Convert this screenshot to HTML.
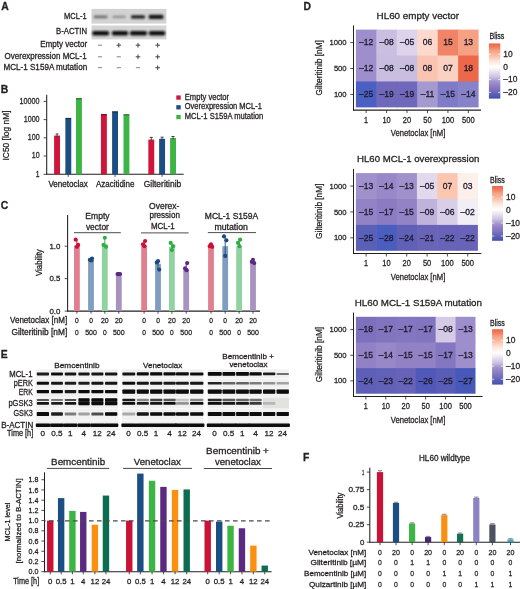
<!DOCTYPE html>
<html><head><meta charset="utf-8"><style>
html,body{margin:0;padding:0;background:#fff;}
svg{display:block;will-change:transform;}
text{font-family:"Liberation Sans", sans-serif;fill:#231f20;stroke:#231f20;stroke-width:0.28px;}
</style></head><body>
<svg width="520" height="589" viewBox="0 0 520 589">
<defs>
<filter id="bl" x="-20%" y="-50%" width="140%" height="200%"><feGaussianBlur stdDeviation="0.6"/></filter>
<filter id="bl3" x="-20%" y="-50%" width="140%" height="200%"><feGaussianBlur stdDeviation="0.75"/></filter>
<filter id="bl2" x="-20%" y="-50%" width="140%" height="200%"><feGaussianBlur stdDeviation="0.9"/></filter>
</defs>
<text x="1.30" y="9.60" font-size="10.4" font-weight="bold" fill="#000">A</text>
<text x="0.80" y="93.30" font-size="10.4" font-weight="bold" fill="#000">B</text>
<text x="0.80" y="208.60" font-size="10.4" font-weight="bold" fill="#000">C</text>
<text x="303.60" y="10.10" font-size="10.4" font-weight="bold" fill="#000">D</text>
<text x="0.80" y="358.10" font-size="10.4" font-weight="bold" fill="#000">E</text>
<text x="302.90" y="460.70" font-size="10.4" font-weight="bold" fill="#000">F</text>
<rect x="91.50" y="8.90" width="74.90" height="14.70" fill="#d2d2d2"/>
<rect x="91.50" y="25.50" width="74.90" height="13.90" fill="#d4d4d4"/>
<g filter="url(#bl2)">
<rect x="93.60" y="15.50" width="14.00" height="2.80" fill="#6e6e6e" rx="1.5"/>
<rect x="112.40" y="15.70" width="13.40" height="2.40" fill="#8c8c8c" rx="1.5"/>
<rect x="130.90" y="15.20" width="14.20" height="3.40" fill="#1c1c1c" rx="1.5"/>
<rect x="148.70" y="14.80" width="14.70" height="4.20" fill="#121212" rx="1.5"/>
<rect x="92.20" y="30.90" width="17.00" height="4.60" fill="#0e0e0e" rx="2"/>
<rect x="111.80" y="30.90" width="16.40" height="4.60" fill="#0e0e0e" rx="2"/>
<rect x="129.90" y="30.90" width="17.20" height="4.60" fill="#0e0e0e" rx="2"/>
<rect x="148.80" y="30.90" width="16.50" height="4.60" fill="#0e0e0e" rx="2"/>
</g>
<text x="86.60" y="19.40" font-size="8.21" text-anchor="end" textLength="22.50" lengthAdjust="spacingAndGlyphs">MCL-1</text>
<text x="87.10" y="34.40" font-size="8.21" text-anchor="end" textLength="31.00" lengthAdjust="spacingAndGlyphs">B-ACTIN</text>
<text x="87.20" y="47.20" font-size="8.21" text-anchor="end" textLength="47.00" lengthAdjust="spacingAndGlyphs">Empty vector</text>
<text x="86.60" y="58.50" font-size="8.21" text-anchor="end" textLength="82.00" lengthAdjust="spacingAndGlyphs">Overexpression MCL-1</text>
<text x="87.20" y="69.50" font-size="8.21" text-anchor="end" textLength="83.80" lengthAdjust="spacingAndGlyphs">MCL-1 S159A mutation</text>
<line x1="97.90" y1="45.20" x2="102.10" y2="45.20" stroke="#666" stroke-width="0.8"/>
<line x1="116.50" y1="45.20" x2="121.10" y2="45.20" stroke="#333" stroke-width="0.9"/>
<line x1="118.80" y1="42.90" x2="118.80" y2="47.50" stroke="#333" stroke-width="0.9"/>
<line x1="135.70" y1="45.20" x2="140.30" y2="45.20" stroke="#333" stroke-width="0.9"/>
<line x1="138.00" y1="42.90" x2="138.00" y2="47.50" stroke="#333" stroke-width="0.9"/>
<line x1="155.40" y1="45.20" x2="160.00" y2="45.20" stroke="#333" stroke-width="0.9"/>
<line x1="157.70" y1="42.90" x2="157.70" y2="47.50" stroke="#333" stroke-width="0.9"/>
<line x1="97.90" y1="56.80" x2="102.10" y2="56.80" stroke="#666" stroke-width="0.8"/>
<line x1="116.70" y1="56.80" x2="120.90" y2="56.80" stroke="#666" stroke-width="0.8"/>
<line x1="135.70" y1="56.80" x2="140.30" y2="56.80" stroke="#333" stroke-width="0.9"/>
<line x1="138.00" y1="54.50" x2="138.00" y2="59.10" stroke="#333" stroke-width="0.9"/>
<line x1="155.40" y1="56.80" x2="160.00" y2="56.80" stroke="#333" stroke-width="0.9"/>
<line x1="157.70" y1="54.50" x2="157.70" y2="59.10" stroke="#333" stroke-width="0.9"/>
<line x1="97.90" y1="67.70" x2="102.10" y2="67.70" stroke="#666" stroke-width="0.8"/>
<line x1="116.70" y1="67.70" x2="120.90" y2="67.70" stroke="#666" stroke-width="0.8"/>
<line x1="135.90" y1="67.70" x2="140.10" y2="67.70" stroke="#666" stroke-width="0.8"/>
<line x1="155.40" y1="67.70" x2="160.00" y2="67.70" stroke="#333" stroke-width="0.9"/>
<line x1="157.70" y1="65.40" x2="157.70" y2="70.00" stroke="#333" stroke-width="0.9"/>
<line x1="46.70" y1="94.70" x2="46.70" y2="174.75" stroke="#231f20" stroke-width="1.05"/>
<line x1="46.25" y1="174.30" x2="183.70" y2="174.30" stroke="#231f20" stroke-width="1.05"/>
<line x1="43.60" y1="101.40" x2="46.70" y2="101.40" stroke="#231f20" stroke-width="0.8"/>
<text x="39.60" y="103.80" font-size="8.42" text-anchor="end" textLength="20.00" lengthAdjust="spacingAndGlyphs">10000</text>
<line x1="43.60" y1="119.60" x2="46.70" y2="119.60" stroke="#231f20" stroke-width="0.8"/>
<text x="39.60" y="122.00" font-size="8.42" text-anchor="end" textLength="15.94" lengthAdjust="spacingAndGlyphs">1000</text>
<line x1="43.60" y1="137.80" x2="46.70" y2="137.80" stroke="#231f20" stroke-width="0.8"/>
<text x="39.60" y="140.20" font-size="8.42" text-anchor="end" textLength="11.88" lengthAdjust="spacingAndGlyphs">100</text>
<line x1="43.60" y1="156.00" x2="46.70" y2="156.00" stroke="#231f20" stroke-width="0.8"/>
<text x="39.60" y="158.40" font-size="8.42" text-anchor="end" textLength="7.82" lengthAdjust="spacingAndGlyphs">10</text>
<line x1="43.60" y1="174.30" x2="46.70" y2="174.30" stroke="#231f20" stroke-width="0.8"/>
<text x="39.60" y="176.70" font-size="8.42" text-anchor="end" textLength="3.76" lengthAdjust="spacingAndGlyphs">1</text>
<line x1="68.20" y1="174.30" x2="68.20" y2="176.80" stroke="#231f20" stroke-width="0.8"/>
<line x1="115.05" y1="174.30" x2="115.05" y2="176.80" stroke="#231f20" stroke-width="0.8"/>
<line x1="162.10" y1="174.30" x2="162.10" y2="176.80" stroke="#231f20" stroke-width="0.8"/>
<text x="68.10" y="186.60" font-size="8.42" text-anchor="middle" textLength="39.40" lengthAdjust="spacingAndGlyphs">Venetoclax</text>
<text x="115.20" y="186.60" font-size="8.42" text-anchor="middle" textLength="38.60" lengthAdjust="spacingAndGlyphs">Azacitidine</text>
<text x="162.50" y="186.60" font-size="8.42" text-anchor="middle" textLength="37.60" lengthAdjust="spacingAndGlyphs">Gilteritinib</text>
<text x="8.60" y="135.50" font-size="8.42" text-anchor="middle" transform="translate(8.60 135.50) rotate(-90) scale(0.9985 1) translate(-8.60 -135.50)">IC50 [log nM]</text>
<rect x="54.10" y="135.60" width="5.90" height="38.70" fill="#d0153a"/>
<rect x="65.35" y="117.90" width="5.90" height="56.40" fill="#1a4e85"/>
<rect x="76.00" y="98.10" width="5.90" height="76.20" fill="#3cb544"/>
<rect x="100.95" y="114.00" width="5.90" height="60.30" fill="#d0153a"/>
<rect x="112.10" y="111.30" width="5.90" height="63.00" fill="#1a4e85"/>
<rect x="123.50" y="114.20" width="5.90" height="60.10" fill="#3cb544"/>
<rect x="148.35" y="139.60" width="5.90" height="34.70" fill="#d0153a"/>
<rect x="159.15" y="138.80" width="5.90" height="35.50" fill="#1a4e85"/>
<rect x="170.10" y="138.00" width="5.90" height="36.30" fill="#3cb544"/>
<line x1="57.05" y1="134.00" x2="57.05" y2="137.00" stroke="#2a2a2a" stroke-width="0.8"/>
<line x1="55.55" y1="134.00" x2="58.55" y2="134.00" stroke="#2a2a2a" stroke-width="0.9"/>
<line x1="151.30" y1="137.40" x2="151.30" y2="140.50" stroke="#2a2a2a" stroke-width="0.8"/>
<line x1="149.80" y1="137.40" x2="152.80" y2="137.40" stroke="#2a2a2a" stroke-width="0.9"/>
<line x1="162.10" y1="137.20" x2="162.10" y2="140.00" stroke="#2a2a2a" stroke-width="0.8"/>
<line x1="160.60" y1="137.20" x2="163.60" y2="137.20" stroke="#2a2a2a" stroke-width="0.9"/>
<line x1="173.05" y1="136.50" x2="173.05" y2="139.50" stroke="#2a2a2a" stroke-width="0.8"/>
<line x1="171.55" y1="136.50" x2="174.55" y2="136.50" stroke="#2a2a2a" stroke-width="0.9"/>
<rect x="65.35" y="117.90" width="5.90" height="1.30" fill="#000" opacity="0.35"/>
<rect x="76.00" y="98.10" width="5.90" height="1.30" fill="#000" opacity="0.35"/>
<rect x="100.95" y="114.00" width="5.90" height="1.30" fill="#000" opacity="0.35"/>
<rect x="112.10" y="111.30" width="5.90" height="1.30" fill="#000" opacity="0.35"/>
<rect x="123.50" y="114.20" width="5.90" height="1.30" fill="#000" opacity="0.35"/>
<rect x="176.30" y="95.40" width="4.40" height="4.30" fill="#d0153a"/>
<text x="184.80" y="99.70" font-size="8.21" textLength="44.30" lengthAdjust="spacingAndGlyphs">Empty vector</text>
<rect x="176.30" y="105.15" width="4.40" height="4.30" fill="#1a4e85"/>
<text x="184.80" y="109.45" font-size="8.21" textLength="77.00" lengthAdjust="spacingAndGlyphs">Overexpression MCL-1</text>
<rect x="176.30" y="114.90" width="4.40" height="4.30" fill="#3cb544"/>
<text x="184.80" y="119.20" font-size="8.21" textLength="78.50" lengthAdjust="spacingAndGlyphs">MCL-1 S159A mutation</text>
<line x1="67.60" y1="215.00" x2="67.60" y2="311.55" stroke="#231f20" stroke-width="1.05"/>
<line x1="67.15" y1="311.10" x2="260.00" y2="311.10" stroke="#231f20" stroke-width="1.05"/>
<line x1="64.70" y1="246.20" x2="67.60" y2="246.20" stroke="#231f20" stroke-width="0.8"/>
<text x="60.40" y="248.70" font-size="7.99" text-anchor="end" textLength="11.00" lengthAdjust="spacingAndGlyphs">1.0</text>
<line x1="64.70" y1="278.65" x2="67.60" y2="278.65" stroke="#231f20" stroke-width="0.8"/>
<text x="60.40" y="281.15" font-size="7.99" text-anchor="end" textLength="11.00" lengthAdjust="spacingAndGlyphs">0.5</text>
<line x1="64.70" y1="311.10" x2="67.60" y2="311.10" stroke="#231f20" stroke-width="0.8"/>
<text x="60.40" y="313.60" font-size="7.99" text-anchor="end" textLength="11.00" lengthAdjust="spacingAndGlyphs">0.0</text>
<text x="41.80" y="262.60" font-size="8.86" text-anchor="middle" transform="translate(41.80 262.60) rotate(-90) scale(0.8824 1) translate(-41.80 -262.60)">Viability</text>
<rect x="74.00" y="245.55" width="5.80" height="65.55" fill="#e17f90"/>
<line x1="76.90" y1="239.71" x2="76.90" y2="246.85" stroke="#cc1038" stroke-width="0.9"/>
<circle cx="75.70" cy="239.71" r="2.10" fill="#cc1038"/>
<circle cx="78.10" cy="244.90" r="2.10" fill="#cc1038"/>
<circle cx="76.90" cy="246.85" r="2.10" fill="#cc1038"/>
<line x1="76.90" y1="311.10" x2="76.90" y2="313.70" stroke="#231f20" stroke-width="0.8"/>
<rect x="88.10" y="259.83" width="5.80" height="51.27" fill="#7f9dc0"/>
<line x1="91.00" y1="258.53" x2="91.00" y2="260.48" stroke="#1b4a80" stroke-width="0.9"/>
<circle cx="92.00" cy="258.53" r="2.10" fill="#1b4a80"/>
<circle cx="89.90" cy="259.83" r="2.10" fill="#1b4a80"/>
<circle cx="91.30" cy="260.48" r="2.10" fill="#1b4a80"/>
<line x1="91.00" y1="311.10" x2="91.00" y2="313.70" stroke="#231f20" stroke-width="0.8"/>
<rect x="101.90" y="244.25" width="5.80" height="66.85" fill="#90d3a0"/>
<line x1="104.80" y1="237.76" x2="104.80" y2="246.85" stroke="#30ad46" stroke-width="0.9"/>
<circle cx="104.80" cy="237.76" r="2.10" fill="#30ad46"/>
<circle cx="103.60" cy="244.90" r="2.10" fill="#30ad46"/>
<circle cx="106.00" cy="246.85" r="2.10" fill="#30ad46"/>
<line x1="104.80" y1="311.10" x2="104.80" y2="313.70" stroke="#231f20" stroke-width="0.8"/>
<rect x="115.90" y="274.11" width="5.80" height="36.99" fill="#a892bf"/>
<line x1="118.80" y1="274.11" x2="118.80" y2="274.11" stroke="#5a2a82" stroke-width="0.9"/>
<circle cx="117.60" cy="274.11" r="2.10" fill="#5a2a82"/>
<circle cx="120.00" cy="274.11" r="2.10" fill="#5a2a82"/>
<circle cx="118.80" cy="274.11" r="2.10" fill="#5a2a82"/>
<line x1="118.80" y1="311.10" x2="118.80" y2="313.70" stroke="#231f20" stroke-width="0.8"/>
<rect x="141.20" y="245.55" width="5.80" height="65.55" fill="#e17f90"/>
<line x1="144.10" y1="241.01" x2="144.10" y2="246.20" stroke="#cc1038" stroke-width="0.9"/>
<circle cx="145.10" cy="241.01" r="2.10" fill="#cc1038"/>
<circle cx="143.00" cy="244.25" r="2.10" fill="#cc1038"/>
<circle cx="144.40" cy="246.20" r="2.10" fill="#cc1038"/>
<line x1="144.10" y1="311.10" x2="144.10" y2="313.70" stroke="#231f20" stroke-width="0.8"/>
<rect x="155.10" y="263.72" width="5.80" height="47.38" fill="#7f9dc0"/>
<line x1="158.00" y1="261.13" x2="158.00" y2="269.56" stroke="#1b4a80" stroke-width="0.9"/>
<circle cx="158.00" cy="261.13" r="2.10" fill="#1b4a80"/>
<circle cx="156.80" cy="262.43" r="2.10" fill="#1b4a80"/>
<circle cx="159.20" cy="269.56" r="2.10" fill="#1b4a80"/>
<line x1="158.00" y1="311.10" x2="158.00" y2="313.70" stroke="#231f20" stroke-width="0.8"/>
<rect x="169.00" y="246.85" width="5.80" height="64.25" fill="#90d3a0"/>
<line x1="171.90" y1="242.96" x2="171.90" y2="250.09" stroke="#30ad46" stroke-width="0.9"/>
<circle cx="170.70" cy="242.96" r="2.10" fill="#30ad46"/>
<circle cx="173.10" cy="246.20" r="2.10" fill="#30ad46"/>
<circle cx="171.90" cy="250.09" r="2.10" fill="#30ad46"/>
<line x1="171.90" y1="311.10" x2="171.90" y2="313.70" stroke="#231f20" stroke-width="0.8"/>
<rect x="183.30" y="268.92" width="5.80" height="42.19" fill="#a892bf"/>
<line x1="186.20" y1="263.07" x2="186.20" y2="270.21" stroke="#5a2a82" stroke-width="0.9"/>
<circle cx="187.20" cy="263.07" r="2.10" fill="#5a2a82"/>
<circle cx="185.10" cy="268.27" r="2.10" fill="#5a2a82"/>
<circle cx="186.50" cy="270.21" r="2.10" fill="#5a2a82"/>
<line x1="186.20" y1="311.10" x2="186.20" y2="313.70" stroke="#231f20" stroke-width="0.8"/>
<rect x="208.10" y="246.20" width="5.80" height="64.90" fill="#e17f90"/>
<line x1="211.00" y1="244.25" x2="211.00" y2="246.85" stroke="#cc1038" stroke-width="0.9"/>
<circle cx="211.00" cy="244.25" r="2.10" fill="#cc1038"/>
<circle cx="209.80" cy="246.20" r="2.10" fill="#cc1038"/>
<circle cx="212.20" cy="246.85" r="2.10" fill="#cc1038"/>
<line x1="211.00" y1="311.10" x2="211.00" y2="313.70" stroke="#231f20" stroke-width="0.8"/>
<rect x="222.30" y="246.20" width="5.80" height="64.90" fill="#7f9dc0"/>
<line x1="225.20" y1="236.47" x2="225.20" y2="255.94" stroke="#1b4a80" stroke-width="0.9"/>
<circle cx="224.00" cy="236.47" r="2.10" fill="#1b4a80"/>
<circle cx="226.40" cy="240.36" r="2.10" fill="#1b4a80"/>
<circle cx="225.20" cy="255.94" r="2.10" fill="#1b4a80"/>
<line x1="225.20" y1="311.10" x2="225.20" y2="313.70" stroke="#231f20" stroke-width="0.8"/>
<rect x="236.20" y="246.20" width="5.80" height="64.90" fill="#90d3a0"/>
<line x1="239.10" y1="239.71" x2="239.10" y2="246.20" stroke="#30ad46" stroke-width="0.9"/>
<circle cx="240.10" cy="239.71" r="2.10" fill="#30ad46"/>
<circle cx="238.00" cy="242.96" r="2.10" fill="#30ad46"/>
<circle cx="239.40" cy="246.20" r="2.10" fill="#30ad46"/>
<line x1="239.10" y1="311.10" x2="239.10" y2="313.70" stroke="#231f20" stroke-width="0.8"/>
<rect x="250.10" y="262.43" width="5.80" height="48.68" fill="#a892bf"/>
<line x1="253.00" y1="259.83" x2="253.00" y2="263.07" stroke="#5a2a82" stroke-width="0.9"/>
<circle cx="253.00" cy="259.83" r="2.10" fill="#5a2a82"/>
<circle cx="251.80" cy="261.78" r="2.10" fill="#5a2a82"/>
<circle cx="254.20" cy="263.07" r="2.10" fill="#5a2a82"/>
<line x1="253.00" y1="311.10" x2="253.00" y2="313.70" stroke="#231f20" stroke-width="0.8"/>
<line x1="74.00" y1="232.70" x2="120.80" y2="232.70" stroke="#3a3a3a" stroke-width="0.9"/>
<line x1="141.00" y1="232.90" x2="188.60" y2="232.90" stroke="#3a3a3a" stroke-width="0.9"/>
<line x1="207.80" y1="232.60" x2="256.00" y2="232.60" stroke="#3a3a3a" stroke-width="0.9"/>
<text x="85.30" y="219.10" font-size="8.21" textLength="24.30" lengthAdjust="spacingAndGlyphs">Empty</text>
<text x="85.90" y="229.60" font-size="8.21" textLength="23.00" lengthAdjust="spacingAndGlyphs">vector</text>
<text x="149.10" y="208.70" font-size="8.21" textLength="30.20" lengthAdjust="spacingAndGlyphs">Overex-</text>
<text x="149.40" y="218.30" font-size="8.21" textLength="30.50" lengthAdjust="spacingAndGlyphs">pression</text>
<text x="150.90" y="228.70" font-size="8.21" textLength="23.90" lengthAdjust="spacingAndGlyphs">MCL-1</text>
<text x="204.80" y="219.20" font-size="8.21" textLength="53.40" lengthAdjust="spacingAndGlyphs">MCL-1 S159A</text>
<text x="214.40" y="229.60" font-size="8.21" textLength="33.50" lengthAdjust="spacingAndGlyphs">mutation</text>
<text x="67.20" y="322.60" font-size="8.21" text-anchor="end" textLength="57.20" lengthAdjust="spacingAndGlyphs">Venetoclax [nM]</text>
<text x="67.20" y="335.00" font-size="8.21" text-anchor="end" textLength="55.70" lengthAdjust="spacingAndGlyphs">Gilteritinib [nM]</text>
<text x="76.90" y="322.70" font-size="7.78" text-anchor="middle" textLength="3.70" lengthAdjust="spacingAndGlyphs">0</text>
<text x="76.90" y="335.30" font-size="7.78" text-anchor="middle" textLength="3.70" lengthAdjust="spacingAndGlyphs">0</text>
<text x="91.00" y="322.70" font-size="7.78" text-anchor="middle" textLength="3.70" lengthAdjust="spacingAndGlyphs">0</text>
<text x="91.00" y="335.30" font-size="7.78" text-anchor="middle" textLength="11.70" lengthAdjust="spacingAndGlyphs">500</text>
<text x="104.80" y="322.70" font-size="7.78" text-anchor="middle" textLength="7.70" lengthAdjust="spacingAndGlyphs">20</text>
<text x="104.80" y="335.30" font-size="7.78" text-anchor="middle" textLength="3.70" lengthAdjust="spacingAndGlyphs">0</text>
<text x="118.80" y="322.70" font-size="7.78" text-anchor="middle" textLength="7.70" lengthAdjust="spacingAndGlyphs">20</text>
<text x="118.80" y="335.30" font-size="7.78" text-anchor="middle" textLength="11.70" lengthAdjust="spacingAndGlyphs">500</text>
<text x="144.10" y="322.70" font-size="7.78" text-anchor="middle" textLength="3.70" lengthAdjust="spacingAndGlyphs">0</text>
<text x="144.10" y="335.30" font-size="7.78" text-anchor="middle" textLength="3.70" lengthAdjust="spacingAndGlyphs">0</text>
<text x="158.00" y="322.70" font-size="7.78" text-anchor="middle" textLength="3.70" lengthAdjust="spacingAndGlyphs">0</text>
<text x="158.00" y="335.30" font-size="7.78" text-anchor="middle" textLength="11.70" lengthAdjust="spacingAndGlyphs">500</text>
<text x="171.90" y="322.70" font-size="7.78" text-anchor="middle" textLength="7.70" lengthAdjust="spacingAndGlyphs">20</text>
<text x="171.90" y="335.30" font-size="7.78" text-anchor="middle" textLength="3.70" lengthAdjust="spacingAndGlyphs">0</text>
<text x="186.20" y="322.70" font-size="7.78" text-anchor="middle" textLength="7.70" lengthAdjust="spacingAndGlyphs">20</text>
<text x="186.20" y="335.30" font-size="7.78" text-anchor="middle" textLength="11.70" lengthAdjust="spacingAndGlyphs">500</text>
<text x="211.00" y="322.70" font-size="7.78" text-anchor="middle" textLength="3.70" lengthAdjust="spacingAndGlyphs">0</text>
<text x="211.00" y="335.30" font-size="7.78" text-anchor="middle" textLength="3.70" lengthAdjust="spacingAndGlyphs">0</text>
<text x="225.20" y="322.70" font-size="7.78" text-anchor="middle" textLength="3.70" lengthAdjust="spacingAndGlyphs">0</text>
<text x="225.20" y="335.30" font-size="7.78" text-anchor="middle" textLength="11.70" lengthAdjust="spacingAndGlyphs">500</text>
<text x="239.10" y="322.70" font-size="7.78" text-anchor="middle" textLength="7.70" lengthAdjust="spacingAndGlyphs">20</text>
<text x="239.10" y="335.30" font-size="7.78" text-anchor="middle" textLength="3.70" lengthAdjust="spacingAndGlyphs">0</text>
<text x="253.00" y="322.70" font-size="7.78" text-anchor="middle" textLength="7.70" lengthAdjust="spacingAndGlyphs">20</text>
<text x="253.00" y="335.30" font-size="7.78" text-anchor="middle" textLength="11.70" lengthAdjust="spacingAndGlyphs">500</text>
<rect x="355.90" y="29.60" width="21.05" height="26.53" fill="#9f8ecc"/>
<text x="366.12" y="45.27" font-size="8.53" text-anchor="middle" style="stroke-width:0.3px;fill:#1c1a2c;stroke:#1c1a2c">–12</text>
<rect x="376.35" y="29.60" width="21.05" height="26.53" fill="#cbbfe1"/>
<text x="386.57" y="45.27" font-size="8.53" text-anchor="middle" style="stroke-width:0.3px;fill:#1c1a2c;stroke:#1c1a2c">–08</text>
<rect x="396.80" y="29.60" width="21.05" height="26.53" fill="#ddd3ea"/>
<text x="407.02" y="45.27" font-size="8.53" text-anchor="middle" style="stroke-width:0.3px;fill:#1c1a2c;stroke:#1c1a2c">–05</text>
<rect x="417.25" y="29.60" width="21.05" height="26.53" fill="#fcd9cc"/>
<text x="427.48" y="45.27" font-size="8.53" text-anchor="middle" style="stroke-width:0.3px;fill:#1c1a2c;stroke:#1c1a2c">06</text>
<rect x="437.70" y="29.60" width="21.05" height="26.53" fill="#f08466"/>
<text x="447.93" y="45.27" font-size="8.53" text-anchor="middle" style="stroke-width:0.3px;fill:#1c1a2c;stroke:#1c1a2c">15</text>
<rect x="458.15" y="29.60" width="20.45" height="26.53" fill="#f6a183"/>
<text x="468.38" y="45.27" font-size="8.53" text-anchor="middle" style="stroke-width:0.3px;fill:#1c1a2c;stroke:#1c1a2c">13</text>
<rect x="355.90" y="55.53" width="21.05" height="26.53" fill="#9f8ecc"/>
<text x="366.12" y="71.20" font-size="8.53" text-anchor="middle" style="stroke-width:0.3px;fill:#1c1a2c;stroke:#1c1a2c">–12</text>
<rect x="376.35" y="55.53" width="21.05" height="26.53" fill="#c9bde0"/>
<text x="386.57" y="71.20" font-size="8.53" text-anchor="middle" style="stroke-width:0.3px;fill:#1c1a2c;stroke:#1c1a2c">–08</text>
<rect x="396.80" y="55.53" width="21.05" height="26.53" fill="#c9bde0"/>
<text x="407.02" y="71.20" font-size="8.53" text-anchor="middle" style="stroke-width:0.3px;fill:#1c1a2c;stroke:#1c1a2c">–08</text>
<rect x="417.25" y="55.53" width="21.05" height="26.53" fill="#f9c5b2"/>
<text x="427.48" y="71.20" font-size="8.53" text-anchor="middle" style="stroke-width:0.3px;fill:#1c1a2c;stroke:#1c1a2c">08</text>
<rect x="437.70" y="55.53" width="21.05" height="26.53" fill="#fbd2c2"/>
<text x="447.93" y="71.20" font-size="8.53" text-anchor="middle" style="stroke-width:0.3px;fill:#1c1a2c;stroke:#1c1a2c">07</text>
<rect x="458.15" y="55.53" width="20.45" height="26.53" fill="#ee6748"/>
<text x="468.38" y="71.20" font-size="8.53" text-anchor="middle" style="stroke-width:0.3px;fill:#1c1a2c;stroke:#1c1a2c">18</text>
<rect x="355.90" y="81.47" width="21.05" height="25.93" fill="#4a60c2"/>
<text x="366.12" y="97.13" font-size="8.53" text-anchor="middle" style="stroke-width:0.3px;fill:#1c1a2c;stroke:#1c1a2c">–25</text>
<rect x="376.35" y="81.47" width="21.05" height="25.93" fill="#7069bb"/>
<text x="386.57" y="97.13" font-size="8.53" text-anchor="middle" style="stroke-width:0.3px;fill:#1c1a2c;stroke:#1c1a2c">–19</text>
<rect x="396.80" y="81.47" width="21.05" height="25.93" fill="#7069bb"/>
<text x="407.02" y="97.13" font-size="8.53" text-anchor="middle" style="stroke-width:0.3px;fill:#1c1a2c;stroke:#1c1a2c">–19</text>
<rect x="417.25" y="81.47" width="21.05" height="25.93" fill="#a49ad0"/>
<text x="427.48" y="97.13" font-size="8.53" text-anchor="middle" style="stroke-width:0.3px;fill:#1c1a2c;stroke:#1c1a2c">–11</text>
<rect x="437.70" y="81.47" width="21.05" height="25.93" fill="#807bc6"/>
<text x="447.93" y="97.13" font-size="8.53" text-anchor="middle" style="stroke-width:0.3px;fill:#1c1a2c;stroke:#1c1a2c">–15</text>
<rect x="458.15" y="81.47" width="20.45" height="25.93" fill="#8882c8"/>
<text x="468.38" y="97.13" font-size="8.53" text-anchor="middle" style="stroke-width:0.3px;fill:#1c1a2c;stroke:#1c1a2c">–14</text>
<line x1="353.50" y1="25.40" x2="353.50" y2="110.55" stroke="#231f20" stroke-width="1.05"/>
<line x1="353.05" y1="110.10" x2="481.00" y2="110.10" stroke="#231f20" stroke-width="1.05"/>
<line x1="350.30" y1="42.57" x2="353.50" y2="42.57" stroke="#231f20" stroke-width="0.8"/>
<text x="346.60" y="45.17" font-size="8.1" text-anchor="end" textLength="17.00" lengthAdjust="spacingAndGlyphs">1000</text>
<line x1="350.30" y1="68.50" x2="353.50" y2="68.50" stroke="#231f20" stroke-width="0.8"/>
<text x="346.60" y="71.10" font-size="8.1" text-anchor="end" textLength="12.70" lengthAdjust="spacingAndGlyphs">500</text>
<line x1="350.30" y1="94.43" x2="353.50" y2="94.43" stroke="#231f20" stroke-width="0.8"/>
<text x="346.60" y="97.03" font-size="8.1" text-anchor="end" textLength="12.70" lengthAdjust="spacingAndGlyphs">100</text>
<line x1="366.12" y1="110.10" x2="366.12" y2="113.10" stroke="#231f20" stroke-width="0.8"/>
<text x="366.12" y="122.90" font-size="8.21" text-anchor="middle" textLength="4.00" lengthAdjust="spacingAndGlyphs">1</text>
<line x1="386.57" y1="110.10" x2="386.57" y2="113.10" stroke="#231f20" stroke-width="0.8"/>
<text x="386.57" y="122.90" font-size="8.21" text-anchor="middle" textLength="8.30" lengthAdjust="spacingAndGlyphs">10</text>
<line x1="407.02" y1="110.10" x2="407.02" y2="113.10" stroke="#231f20" stroke-width="0.8"/>
<text x="407.02" y="122.90" font-size="8.21" text-anchor="middle" textLength="8.30" lengthAdjust="spacingAndGlyphs">20</text>
<line x1="427.48" y1="110.10" x2="427.48" y2="113.10" stroke="#231f20" stroke-width="0.8"/>
<text x="427.48" y="122.90" font-size="8.21" text-anchor="middle" textLength="8.30" lengthAdjust="spacingAndGlyphs">50</text>
<line x1="447.93" y1="110.10" x2="447.93" y2="113.10" stroke="#231f20" stroke-width="0.8"/>
<text x="447.93" y="122.90" font-size="8.21" text-anchor="middle" textLength="12.60" lengthAdjust="spacingAndGlyphs">100</text>
<line x1="468.38" y1="110.10" x2="468.38" y2="113.10" stroke="#231f20" stroke-width="0.8"/>
<text x="468.38" y="122.90" font-size="8.21" text-anchor="middle" textLength="12.60" lengthAdjust="spacingAndGlyphs">500</text>
<text x="418.00" y="136.10" font-size="9.07" text-anchor="middle" textLength="54.60" lengthAdjust="spacingAndGlyphs">Venetoclax [nM]</text>
<text x="322.40" y="67.75" font-size="9.07" text-anchor="middle" transform="translate(322.40 67.75) rotate(-90) scale(0.9160 1) translate(-322.40 -67.75)">Gilteritinib [nM]</text>
<text x="417.80" y="19.00" font-size="9.29" text-anchor="middle" textLength="82.40" lengthAdjust="spacingAndGlyphs">HL60 empty vector</text>
<linearGradient id="cg1" x1="0" y1="0" x2="0" y2="1"><stop offset="0.000" stop-color="#ee6748"/><stop offset="0.025" stop-color="#ee6d4e"/><stop offset="0.050" stop-color="#ef7859"/><stop offset="0.075" stop-color="#f08263"/><stop offset="0.100" stop-color="#f29072"/><stop offset="0.125" stop-color="#f59f82"/><stop offset="0.150" stop-color="#f6a78b"/><stop offset="0.175" stop-color="#f7ae93"/><stop offset="0.200" stop-color="#f8b69d"/><stop offset="0.225" stop-color="#f9bfa9"/><stop offset="0.250" stop-color="#fac8b6"/><stop offset="0.275" stop-color="#fbd3c4"/><stop offset="0.300" stop-color="#fcdcd0"/><stop offset="0.325" stop-color="#fde4da"/><stop offset="0.350" stop-color="#fdebe4"/><stop offset="0.375" stop-color="#fdf2ed"/><stop offset="0.400" stop-color="#fef8f6"/><stop offset="0.425" stop-color="#fffefe"/><stop offset="0.450" stop-color="#f9f7fb"/><stop offset="0.475" stop-color="#f3eff6"/><stop offset="0.500" stop-color="#ece6f2"/><stop offset="0.525" stop-color="#e5deee"/><stop offset="0.550" stop-color="#ded5ea"/><stop offset="0.575" stop-color="#d6cce6"/><stop offset="0.600" stop-color="#cfc4e3"/><stop offset="0.625" stop-color="#c4b8de"/><stop offset="0.650" stop-color="#b6a9d6"/><stop offset="0.675" stop-color="#a99bd0"/><stop offset="0.700" stop-color="#a190cd"/><stop offset="0.725" stop-color="#9b8aca"/><stop offset="0.750" stop-color="#9484c6"/><stop offset="0.775" stop-color="#8d7ec3"/><stop offset="0.800" stop-color="#8779c1"/><stop offset="0.825" stop-color="#8174bf"/><stop offset="0.850" stop-color="#786ebd"/><stop offset="0.875" stop-color="#6f69bb"/><stop offset="0.900" stop-color="#6364b5"/><stop offset="0.925" stop-color="#5a5fb4"/><stop offset="0.950" stop-color="#525ab2"/><stop offset="0.975" stop-color="#4955b0"/><stop offset="1.000" stop-color="#4050ae"/></linearGradient>
<rect x="488.90" y="43.40" width="11.40" height="55.20" fill="url(#cg1)"/>
<line x1="488.90" y1="54.10" x2="491.10" y2="54.10" stroke="#fff" stroke-width="0.7"/>
<line x1="498.10" y1="54.10" x2="500.30" y2="54.10" stroke="#fff" stroke-width="0.7"/>
<text x="503.30" y="56.70" font-size="8.42">10</text>
<line x1="488.90" y1="67.00" x2="491.10" y2="67.00" stroke="#fff" stroke-width="0.7"/>
<line x1="498.10" y1="67.00" x2="500.30" y2="67.00" stroke="#fff" stroke-width="0.7"/>
<text x="503.30" y="69.60" font-size="8.42">0</text>
<line x1="488.90" y1="79.60" x2="491.10" y2="79.60" stroke="#fff" stroke-width="0.7"/>
<line x1="498.10" y1="79.60" x2="500.30" y2="79.60" stroke="#fff" stroke-width="0.7"/>
<text x="503.30" y="82.20" font-size="8.42">–10</text>
<line x1="488.90" y1="92.40" x2="491.10" y2="92.40" stroke="#fff" stroke-width="0.7"/>
<line x1="498.10" y1="92.40" x2="500.30" y2="92.40" stroke="#fff" stroke-width="0.7"/>
<text x="503.30" y="95.00" font-size="8.42">–20</text>
<text x="489.40" y="39.10" font-size="8.42" textLength="15.00" lengthAdjust="spacingAndGlyphs">Bliss</text>
<rect x="355.90" y="173.10" width="20.93" height="26.50" fill="#a090cc"/>
<text x="366.07" y="188.75" font-size="8.53" text-anchor="middle" style="stroke-width:0.3px;fill:#1c1a2c;stroke:#1c1a2c">–13</text>
<rect x="376.23" y="173.10" width="20.93" height="26.50" fill="#9888c8"/>
<text x="386.40" y="188.75" font-size="8.53" text-anchor="middle" style="stroke-width:0.3px;fill:#1c1a2c;stroke:#1c1a2c">–14</text>
<rect x="396.57" y="173.10" width="20.93" height="26.50" fill="#a090cc"/>
<text x="406.73" y="188.75" font-size="8.53" text-anchor="middle" style="stroke-width:0.3px;fill:#1c1a2c;stroke:#1c1a2c">–13</text>
<rect x="416.90" y="173.10" width="20.93" height="26.50" fill="#e2d9ed"/>
<text x="427.07" y="188.75" font-size="8.53" text-anchor="middle" style="stroke-width:0.3px;fill:#1c1a2c;stroke:#1c1a2c">–05</text>
<rect x="437.23" y="173.10" width="20.93" height="26.50" fill="#fbc7b0"/>
<text x="447.40" y="188.75" font-size="8.53" text-anchor="middle" style="stroke-width:0.3px;fill:#1c1a2c;stroke:#1c1a2c">07</text>
<rect x="457.57" y="173.10" width="20.33" height="26.50" fill="#fdefe9"/>
<text x="467.73" y="188.75" font-size="8.53" text-anchor="middle" style="stroke-width:0.3px;fill:#1c1a2c;stroke:#1c1a2c">03</text>
<rect x="355.90" y="199.00" width="20.93" height="26.50" fill="#9283c6"/>
<text x="366.07" y="214.65" font-size="8.53" text-anchor="middle" style="stroke-width:0.3px;fill:#1c1a2c;stroke:#1c1a2c">–15</text>
<rect x="376.23" y="199.00" width="20.93" height="26.50" fill="#8a7bc2"/>
<text x="386.40" y="214.65" font-size="8.53" text-anchor="middle" style="stroke-width:0.3px;fill:#1c1a2c;stroke:#1c1a2c">–17</text>
<rect x="396.57" y="199.00" width="20.93" height="26.50" fill="#9283c6"/>
<text x="406.73" y="214.65" font-size="8.53" text-anchor="middle" style="stroke-width:0.3px;fill:#1c1a2c;stroke:#1c1a2c">–15</text>
<rect x="416.90" y="199.00" width="20.93" height="26.50" fill="#c0b3db"/>
<text x="427.07" y="214.65" font-size="8.53" text-anchor="middle" style="stroke-width:0.3px;fill:#1c1a2c;stroke:#1c1a2c">–09</text>
<rect x="437.23" y="199.00" width="20.93" height="26.50" fill="#d8cee8"/>
<text x="447.40" y="214.65" font-size="8.53" text-anchor="middle" style="stroke-width:0.3px;fill:#1c1a2c;stroke:#1c1a2c">–06</text>
<rect x="457.57" y="199.00" width="20.33" height="26.50" fill="#f2eef6"/>
<text x="467.73" y="214.65" font-size="8.53" text-anchor="middle" style="stroke-width:0.3px;fill:#1c1a2c;stroke:#1c1a2c">–02</text>
<rect x="355.90" y="224.90" width="20.93" height="25.90" fill="#5a5fb8"/>
<text x="366.07" y="240.55" font-size="8.53" text-anchor="middle" style="stroke-width:0.3px;fill:#1c1a2c;stroke:#1c1a2c">–25</text>
<rect x="376.23" y="224.90" width="20.93" height="25.90" fill="#4a5ec0"/>
<text x="386.40" y="240.55" font-size="8.53" text-anchor="middle" style="stroke-width:0.3px;fill:#1c1a2c;stroke:#1c1a2c">–28</text>
<rect x="396.57" y="224.90" width="20.93" height="25.90" fill="#5f60b6"/>
<text x="406.73" y="240.55" font-size="8.53" text-anchor="middle" style="stroke-width:0.3px;fill:#1c1a2c;stroke:#1c1a2c">–24</text>
<rect x="416.90" y="224.90" width="20.93" height="25.90" fill="#6a64b8"/>
<text x="427.07" y="240.55" font-size="8.53" text-anchor="middle" style="stroke-width:0.3px;fill:#1c1a2c;stroke:#1c1a2c">–21</text>
<rect x="437.23" y="224.90" width="20.93" height="25.90" fill="#6863b8"/>
<text x="447.40" y="240.55" font-size="8.53" text-anchor="middle" style="stroke-width:0.3px;fill:#1c1a2c;stroke:#1c1a2c">–22</text>
<rect x="457.57" y="224.90" width="20.33" height="25.90" fill="#6863b8"/>
<text x="467.73" y="240.55" font-size="8.53" text-anchor="middle" style="stroke-width:0.3px;fill:#1c1a2c;stroke:#1c1a2c">–22</text>
<line x1="353.50" y1="168.90" x2="353.50" y2="253.95" stroke="#231f20" stroke-width="1.05"/>
<line x1="353.05" y1="253.50" x2="481.30" y2="253.50" stroke="#231f20" stroke-width="1.05"/>
<line x1="350.30" y1="186.05" x2="353.50" y2="186.05" stroke="#231f20" stroke-width="0.8"/>
<text x="346.60" y="188.65" font-size="8.1" text-anchor="end" textLength="17.00" lengthAdjust="spacingAndGlyphs">1000</text>
<line x1="350.30" y1="211.95" x2="353.50" y2="211.95" stroke="#231f20" stroke-width="0.8"/>
<text x="346.60" y="214.55" font-size="8.1" text-anchor="end" textLength="12.70" lengthAdjust="spacingAndGlyphs">500</text>
<line x1="350.30" y1="237.85" x2="353.50" y2="237.85" stroke="#231f20" stroke-width="0.8"/>
<text x="346.60" y="240.45" font-size="8.1" text-anchor="end" textLength="12.70" lengthAdjust="spacingAndGlyphs">100</text>
<line x1="366.07" y1="253.50" x2="366.07" y2="256.50" stroke="#231f20" stroke-width="0.8"/>
<text x="366.07" y="266.30" font-size="8.21" text-anchor="middle" textLength="4.00" lengthAdjust="spacingAndGlyphs">1</text>
<line x1="386.40" y1="253.50" x2="386.40" y2="256.50" stroke="#231f20" stroke-width="0.8"/>
<text x="386.40" y="266.30" font-size="8.21" text-anchor="middle" textLength="8.30" lengthAdjust="spacingAndGlyphs">10</text>
<line x1="406.73" y1="253.50" x2="406.73" y2="256.50" stroke="#231f20" stroke-width="0.8"/>
<text x="406.73" y="266.30" font-size="8.21" text-anchor="middle" textLength="8.30" lengthAdjust="spacingAndGlyphs">20</text>
<line x1="427.07" y1="253.50" x2="427.07" y2="256.50" stroke="#231f20" stroke-width="0.8"/>
<text x="427.07" y="266.30" font-size="8.21" text-anchor="middle" textLength="8.30" lengthAdjust="spacingAndGlyphs">50</text>
<line x1="447.40" y1="253.50" x2="447.40" y2="256.50" stroke="#231f20" stroke-width="0.8"/>
<text x="447.40" y="266.30" font-size="8.21" text-anchor="middle" textLength="12.60" lengthAdjust="spacingAndGlyphs">100</text>
<line x1="467.73" y1="253.50" x2="467.73" y2="256.50" stroke="#231f20" stroke-width="0.8"/>
<text x="467.73" y="266.30" font-size="8.21" text-anchor="middle" textLength="12.60" lengthAdjust="spacingAndGlyphs">500</text>
<text x="418.00" y="279.50" font-size="9.07" text-anchor="middle" textLength="54.60" lengthAdjust="spacingAndGlyphs">Venetoclax [nM]</text>
<text x="322.40" y="211.20" font-size="9.07" text-anchor="middle" transform="translate(322.40 211.20) rotate(-90) scale(0.9160 1) translate(-322.40 -211.20)">Gilteritinib [nM]</text>
<text x="418.25" y="162.10" font-size="9.29" text-anchor="middle" textLength="122.40" lengthAdjust="spacingAndGlyphs">HL60 MCL-1 overexpression</text>
<linearGradient id="cg2" x1="0" y1="0" x2="0" y2="1"><stop offset="0.000" stop-color="#ee6748"/><stop offset="0.025" stop-color="#ee6d4e"/><stop offset="0.050" stop-color="#ef7859"/><stop offset="0.075" stop-color="#f08263"/><stop offset="0.100" stop-color="#f29072"/><stop offset="0.125" stop-color="#f59f82"/><stop offset="0.150" stop-color="#f6a78b"/><stop offset="0.175" stop-color="#f7ae93"/><stop offset="0.200" stop-color="#f8b69d"/><stop offset="0.225" stop-color="#f9bfa9"/><stop offset="0.250" stop-color="#fac8b6"/><stop offset="0.275" stop-color="#fbd3c4"/><stop offset="0.300" stop-color="#fcdcd0"/><stop offset="0.325" stop-color="#fde4da"/><stop offset="0.350" stop-color="#fdebe4"/><stop offset="0.375" stop-color="#fdf2ed"/><stop offset="0.400" stop-color="#fef8f6"/><stop offset="0.425" stop-color="#fffefe"/><stop offset="0.450" stop-color="#f9f7fb"/><stop offset="0.475" stop-color="#f3eff6"/><stop offset="0.500" stop-color="#ece6f2"/><stop offset="0.525" stop-color="#e5deee"/><stop offset="0.550" stop-color="#ded5ea"/><stop offset="0.575" stop-color="#d6cce6"/><stop offset="0.600" stop-color="#cfc4e3"/><stop offset="0.625" stop-color="#c4b8de"/><stop offset="0.650" stop-color="#b6a9d6"/><stop offset="0.675" stop-color="#a99bd0"/><stop offset="0.700" stop-color="#a190cd"/><stop offset="0.725" stop-color="#9b8aca"/><stop offset="0.750" stop-color="#9484c6"/><stop offset="0.775" stop-color="#8d7ec3"/><stop offset="0.800" stop-color="#8779c1"/><stop offset="0.825" stop-color="#8174bf"/><stop offset="0.850" stop-color="#786ebd"/><stop offset="0.875" stop-color="#6f69bb"/><stop offset="0.900" stop-color="#6364b5"/><stop offset="0.925" stop-color="#5a5fb4"/><stop offset="0.950" stop-color="#525ab2"/><stop offset="0.975" stop-color="#4955b0"/><stop offset="1.000" stop-color="#4050ae"/></linearGradient>
<rect x="492.10" y="186.00" width="10.90" height="54.80" fill="url(#cg2)"/>
<line x1="492.10" y1="197.10" x2="494.30" y2="197.10" stroke="#fff" stroke-width="0.7"/>
<line x1="500.80" y1="197.10" x2="503.00" y2="197.10" stroke="#fff" stroke-width="0.7"/>
<text x="506.00" y="199.70" font-size="8.42">10</text>
<line x1="492.10" y1="210.40" x2="494.30" y2="210.40" stroke="#fff" stroke-width="0.7"/>
<line x1="500.80" y1="210.40" x2="503.00" y2="210.40" stroke="#fff" stroke-width="0.7"/>
<text x="506.00" y="213.00" font-size="8.42">0</text>
<line x1="492.10" y1="223.00" x2="494.30" y2="223.00" stroke="#fff" stroke-width="0.7"/>
<line x1="500.80" y1="223.00" x2="503.00" y2="223.00" stroke="#fff" stroke-width="0.7"/>
<text x="506.00" y="225.60" font-size="8.42">–10</text>
<line x1="492.10" y1="236.00" x2="494.30" y2="236.00" stroke="#fff" stroke-width="0.7"/>
<line x1="500.80" y1="236.00" x2="503.00" y2="236.00" stroke="#fff" stroke-width="0.7"/>
<text x="506.00" y="238.60" font-size="8.42">–20</text>
<text x="489.90" y="182.70" font-size="8.42" textLength="15.00" lengthAdjust="spacingAndGlyphs">Bliss</text>
<rect x="355.90" y="316.80" width="20.53" height="26.23" fill="#7d70bd"/>
<text x="365.87" y="332.32" font-size="8.53" text-anchor="middle" style="stroke-width:0.3px;fill:#1c1a2c;stroke:#1c1a2c">–18</text>
<rect x="375.83" y="316.80" width="20.53" height="26.23" fill="#8274bf"/>
<text x="385.80" y="332.32" font-size="8.53" text-anchor="middle" style="stroke-width:0.3px;fill:#1c1a2c;stroke:#1c1a2c">–17</text>
<rect x="395.77" y="316.80" width="20.53" height="26.23" fill="#8476c0"/>
<text x="405.73" y="332.32" font-size="8.53" text-anchor="middle" style="stroke-width:0.3px;fill:#1c1a2c;stroke:#1c1a2c">–17</text>
<rect x="415.70" y="316.80" width="20.53" height="26.23" fill="#8274bf"/>
<text x="425.67" y="332.32" font-size="8.53" text-anchor="middle" style="stroke-width:0.3px;fill:#1c1a2c;stroke:#1c1a2c">–17</text>
<rect x="435.63" y="316.80" width="20.53" height="26.23" fill="#d5cbe6"/>
<text x="445.60" y="332.32" font-size="8.53" text-anchor="middle" style="stroke-width:0.3px;fill:#1c1a2c;stroke:#1c1a2c">–08</text>
<rect x="455.57" y="316.80" width="19.93" height="26.23" fill="#9e8ecb"/>
<text x="465.53" y="332.32" font-size="8.53" text-anchor="middle" style="stroke-width:0.3px;fill:#1c1a2c;stroke:#1c1a2c">–13</text>
<rect x="355.90" y="342.43" width="20.53" height="26.23" fill="#9282c5"/>
<text x="365.87" y="357.95" font-size="8.53" text-anchor="middle" style="stroke-width:0.3px;fill:#1c1a2c;stroke:#1c1a2c">–15</text>
<rect x="375.83" y="342.43" width="20.53" height="26.23" fill="#9888c8"/>
<text x="385.80" y="357.95" font-size="8.53" text-anchor="middle" style="stroke-width:0.3px;fill:#1c1a2c;stroke:#1c1a2c">–14</text>
<rect x="395.77" y="342.43" width="20.53" height="26.23" fill="#9282c5"/>
<text x="405.73" y="357.95" font-size="8.53" text-anchor="middle" style="stroke-width:0.3px;fill:#1c1a2c;stroke:#1c1a2c">–15</text>
<rect x="415.70" y="342.43" width="20.53" height="26.23" fill="#9282c5"/>
<text x="425.67" y="357.95" font-size="8.53" text-anchor="middle" style="stroke-width:0.3px;fill:#1c1a2c;stroke:#1c1a2c">–15</text>
<rect x="435.63" y="342.43" width="20.53" height="26.23" fill="#8476c0"/>
<text x="445.60" y="357.95" font-size="8.53" text-anchor="middle" style="stroke-width:0.3px;fill:#1c1a2c;stroke:#1c1a2c">–17</text>
<rect x="455.57" y="342.43" width="19.93" height="26.23" fill="#9e8ecb"/>
<text x="465.53" y="357.95" font-size="8.53" text-anchor="middle" style="stroke-width:0.3px;fill:#1c1a2c;stroke:#1c1a2c">–13</text>
<rect x="355.90" y="368.07" width="20.53" height="25.63" fill="#5e5fb8"/>
<text x="365.87" y="383.58" font-size="8.53" text-anchor="middle" style="stroke-width:0.3px;fill:#1c1a2c;stroke:#1c1a2c">–24</text>
<rect x="375.83" y="368.07" width="20.53" height="25.63" fill="#6261b8"/>
<text x="385.80" y="383.58" font-size="8.53" text-anchor="middle" style="stroke-width:0.3px;fill:#1c1a2c;stroke:#1c1a2c">–23</text>
<rect x="395.77" y="368.07" width="20.53" height="25.63" fill="#6663b8"/>
<text x="405.73" y="383.58" font-size="8.53" text-anchor="middle" style="stroke-width:0.3px;fill:#1c1a2c;stroke:#1c1a2c">–22</text>
<rect x="415.70" y="368.07" width="20.53" height="25.63" fill="#5058b8"/>
<text x="425.67" y="383.58" font-size="8.53" text-anchor="middle" style="stroke-width:0.3px;fill:#1c1a2c;stroke:#1c1a2c">–26</text>
<rect x="435.63" y="368.07" width="20.53" height="25.63" fill="#5a5db8"/>
<text x="445.60" y="383.58" font-size="8.53" text-anchor="middle" style="stroke-width:0.3px;fill:#1c1a2c;stroke:#1c1a2c">–25</text>
<rect x="455.57" y="368.07" width="19.93" height="25.63" fill="#4658b8"/>
<text x="465.53" y="383.58" font-size="8.53" text-anchor="middle" style="stroke-width:0.3px;fill:#1c1a2c;stroke:#1c1a2c">–27</text>
<line x1="353.50" y1="312.60" x2="353.50" y2="396.95" stroke="#231f20" stroke-width="1.05"/>
<line x1="353.05" y1="396.50" x2="482.50" y2="396.50" stroke="#231f20" stroke-width="1.05"/>
<line x1="350.30" y1="329.62" x2="353.50" y2="329.62" stroke="#231f20" stroke-width="0.8"/>
<text x="346.60" y="332.22" font-size="8.1" text-anchor="end" textLength="17.00" lengthAdjust="spacingAndGlyphs">1000</text>
<line x1="350.30" y1="355.25" x2="353.50" y2="355.25" stroke="#231f20" stroke-width="0.8"/>
<text x="346.60" y="357.85" font-size="8.1" text-anchor="end" textLength="12.70" lengthAdjust="spacingAndGlyphs">500</text>
<line x1="350.30" y1="380.88" x2="353.50" y2="380.88" stroke="#231f20" stroke-width="0.8"/>
<text x="346.60" y="383.48" font-size="8.1" text-anchor="end" textLength="12.70" lengthAdjust="spacingAndGlyphs">100</text>
<line x1="365.87" y1="396.50" x2="365.87" y2="399.50" stroke="#231f20" stroke-width="0.8"/>
<text x="365.87" y="409.30" font-size="8.21" text-anchor="middle" textLength="4.00" lengthAdjust="spacingAndGlyphs">1</text>
<line x1="385.80" y1="396.50" x2="385.80" y2="399.50" stroke="#231f20" stroke-width="0.8"/>
<text x="385.80" y="409.30" font-size="8.21" text-anchor="middle" textLength="8.30" lengthAdjust="spacingAndGlyphs">10</text>
<line x1="405.73" y1="396.50" x2="405.73" y2="399.50" stroke="#231f20" stroke-width="0.8"/>
<text x="405.73" y="409.30" font-size="8.21" text-anchor="middle" textLength="8.30" lengthAdjust="spacingAndGlyphs">20</text>
<line x1="425.67" y1="396.50" x2="425.67" y2="399.50" stroke="#231f20" stroke-width="0.8"/>
<text x="425.67" y="409.30" font-size="8.21" text-anchor="middle" textLength="8.30" lengthAdjust="spacingAndGlyphs">50</text>
<line x1="445.60" y1="396.50" x2="445.60" y2="399.50" stroke="#231f20" stroke-width="0.8"/>
<text x="445.60" y="409.30" font-size="8.21" text-anchor="middle" textLength="12.60" lengthAdjust="spacingAndGlyphs">100</text>
<line x1="465.53" y1="396.50" x2="465.53" y2="399.50" stroke="#231f20" stroke-width="0.8"/>
<text x="465.53" y="409.30" font-size="8.21" text-anchor="middle" textLength="12.60" lengthAdjust="spacingAndGlyphs">500</text>
<text x="418.00" y="422.50" font-size="9.07" text-anchor="middle" textLength="54.60" lengthAdjust="spacingAndGlyphs">Venetoclax [nM]</text>
<text x="322.40" y="354.50" font-size="9.07" text-anchor="middle" transform="translate(322.40 354.50) rotate(-90) scale(0.9160 1) translate(-322.40 -354.50)">Gilteritinib [nM]</text>
<text x="418.35" y="305.70" font-size="9.29" text-anchor="middle" textLength="127.30" lengthAdjust="spacingAndGlyphs">HL60 MCL-1 S159A mutation</text>
<linearGradient id="cg3" x1="0" y1="0" x2="0" y2="1"><stop offset="0.000" stop-color="#ee6748"/><stop offset="0.025" stop-color="#ee6d4e"/><stop offset="0.050" stop-color="#ef7859"/><stop offset="0.075" stop-color="#f08263"/><stop offset="0.100" stop-color="#f29072"/><stop offset="0.125" stop-color="#f59f82"/><stop offset="0.150" stop-color="#f6a78b"/><stop offset="0.175" stop-color="#f7ae93"/><stop offset="0.200" stop-color="#f8b69d"/><stop offset="0.225" stop-color="#f9bfa9"/><stop offset="0.250" stop-color="#fac8b6"/><stop offset="0.275" stop-color="#fbd3c4"/><stop offset="0.300" stop-color="#fcdcd0"/><stop offset="0.325" stop-color="#fde4da"/><stop offset="0.350" stop-color="#fdebe4"/><stop offset="0.375" stop-color="#fdf2ed"/><stop offset="0.400" stop-color="#fef8f6"/><stop offset="0.425" stop-color="#fffefe"/><stop offset="0.450" stop-color="#f9f7fb"/><stop offset="0.475" stop-color="#f3eff6"/><stop offset="0.500" stop-color="#ece6f2"/><stop offset="0.525" stop-color="#e5deee"/><stop offset="0.550" stop-color="#ded5ea"/><stop offset="0.575" stop-color="#d6cce6"/><stop offset="0.600" stop-color="#cfc4e3"/><stop offset="0.625" stop-color="#c4b8de"/><stop offset="0.650" stop-color="#b6a9d6"/><stop offset="0.675" stop-color="#a99bd0"/><stop offset="0.700" stop-color="#a190cd"/><stop offset="0.725" stop-color="#9b8aca"/><stop offset="0.750" stop-color="#9484c6"/><stop offset="0.775" stop-color="#8d7ec3"/><stop offset="0.800" stop-color="#8779c1"/><stop offset="0.825" stop-color="#8174bf"/><stop offset="0.850" stop-color="#786ebd"/><stop offset="0.875" stop-color="#6f69bb"/><stop offset="0.900" stop-color="#6364b5"/><stop offset="0.925" stop-color="#5a5fb4"/><stop offset="0.950" stop-color="#525ab2"/><stop offset="0.975" stop-color="#4955b0"/><stop offset="1.000" stop-color="#4050ae"/></linearGradient>
<rect x="492.10" y="329.20" width="11.00" height="55.40" fill="url(#cg3)"/>
<line x1="492.10" y1="340.30" x2="494.30" y2="340.30" stroke="#fff" stroke-width="0.7"/>
<line x1="500.90" y1="340.30" x2="503.10" y2="340.30" stroke="#fff" stroke-width="0.7"/>
<text x="506.10" y="342.90" font-size="8.42">10</text>
<line x1="492.10" y1="353.60" x2="494.30" y2="353.60" stroke="#fff" stroke-width="0.7"/>
<line x1="500.90" y1="353.60" x2="503.10" y2="353.60" stroke="#fff" stroke-width="0.7"/>
<text x="506.10" y="356.20" font-size="8.42">0</text>
<line x1="492.10" y1="366.20" x2="494.30" y2="366.20" stroke="#fff" stroke-width="0.7"/>
<line x1="500.90" y1="366.20" x2="503.10" y2="366.20" stroke="#fff" stroke-width="0.7"/>
<text x="506.10" y="368.80" font-size="8.42">–10</text>
<line x1="492.10" y1="379.20" x2="494.30" y2="379.20" stroke="#fff" stroke-width="0.7"/>
<line x1="500.90" y1="379.20" x2="503.10" y2="379.20" stroke="#fff" stroke-width="0.7"/>
<text x="506.10" y="381.80" font-size="8.42">–20</text>
<text x="489.90" y="326.00" font-size="8.42" textLength="15.00" lengthAdjust="spacingAndGlyphs">Bliss</text>
<rect x="35.80" y="369.40" width="82.20" height="8.90" fill="#f1f1f1"/>
<rect x="35.80" y="378.90" width="82.20" height="8.90" fill="#f1f1f1"/>
<rect x="35.80" y="388.40" width="82.20" height="8.60" fill="#f1f1f1"/>
<rect x="35.80" y="397.60" width="82.20" height="10.80" fill="#f1f1f1"/>
<rect x="35.80" y="409.00" width="82.20" height="10.80" fill="#f1f1f1"/>
<rect x="35.80" y="420.40" width="82.20" height="9.40" fill="#f1f1f1"/>
<rect x="121.80" y="369.40" width="81.70" height="8.90" fill="#f1f1f1"/>
<rect x="121.80" y="378.90" width="81.70" height="8.90" fill="#f1f1f1"/>
<rect x="121.80" y="388.40" width="81.70" height="8.60" fill="#f1f1f1"/>
<rect x="121.80" y="397.60" width="81.70" height="10.80" fill="#f1f1f1"/>
<rect x="121.80" y="409.00" width="81.70" height="10.80" fill="#f1f1f1"/>
<rect x="121.80" y="420.40" width="81.70" height="9.40" fill="#f1f1f1"/>
<rect x="207.50" y="369.40" width="81.50" height="8.90" fill="#f1f1f1"/>
<rect x="207.50" y="378.90" width="81.50" height="8.90" fill="#f1f1f1"/>
<rect x="207.50" y="388.40" width="81.50" height="8.60" fill="#f1f1f1"/>
<rect x="207.50" y="397.60" width="81.50" height="10.80" fill="#f1f1f1"/>
<rect x="207.50" y="409.00" width="81.50" height="10.80" fill="#f1f1f1"/>
<rect x="207.50" y="420.40" width="81.50" height="9.40" fill="#f1f1f1"/>
<rect x="263.00" y="397.60" width="26.00" height="10.80" fill="#e2e2de"/>
<g filter="url(#bl3)">
<rect x="36.80" y="372.40" width="12.20" height="3.00" fill="#1b1b1b" rx="0.7"/>
<rect x="51.10" y="372.40" width="11.80" height="3.00" fill="#0f0f0f" rx="0.7"/>
<rect x="64.80" y="372.40" width="11.40" height="3.00" fill="#141414" rx="0.7"/>
<rect x="78.40" y="372.40" width="11.20" height="3.00" fill="#141414" rx="0.7"/>
<rect x="91.40" y="372.40" width="12.00" height="3.00" fill="#141414" rx="0.7"/>
<rect x="105.00" y="372.40" width="12.30" height="3.00" fill="#141414" rx="0.7"/>
<rect x="122.40" y="372.40" width="12.80" height="3.00" fill="#141414" rx="0.7"/>
<rect x="136.80" y="372.30" width="12.00" height="3.20" fill="#0f0f0f" rx="0.7"/>
<rect x="150.10" y="372.20" width="12.20" height="3.40" fill="#080808" rx="0.7"/>
<rect x="163.50" y="372.30" width="12.20" height="3.20" fill="#0f0f0f" rx="0.7"/>
<rect x="176.00" y="372.30" width="12.80" height="3.20" fill="#0f0f0f" rx="0.7"/>
<rect x="190.10" y="372.40" width="13.30" height="3.00" fill="#0f0f0f" rx="0.7"/>
<rect x="207.80" y="372.00" width="13.90" height="3.80" fill="#080808" rx="0.7"/>
<rect x="222.50" y="372.00" width="12.80" height="3.80" fill="#080808" rx="0.7"/>
<rect x="236.10" y="372.00" width="12.80" height="3.80" fill="#080808" rx="0.7"/>
<rect x="249.50" y="372.20" width="12.20" height="3.40" fill="#080808" rx="0.7"/>
<rect x="263.00" y="372.60" width="12.30" height="2.60" fill="#1f1f1f" rx="0.7"/>
<rect x="276.60" y="372.90" width="12.30" height="2.00" fill="#707070" rx="0.7"/>
<rect x="36.80" y="381.85" width="12.20" height="2.90" fill="#0f0f0f" rx="0.7"/>
<rect x="51.10" y="381.85" width="11.80" height="2.90" fill="#181818" rx="0.7"/>
<rect x="64.80" y="381.85" width="11.40" height="2.90" fill="#1f1f1f" rx="0.7"/>
<rect x="78.40" y="381.85" width="11.20" height="2.90" fill="#1f1f1f" rx="0.7"/>
<rect x="91.40" y="381.85" width="12.00" height="2.90" fill="#141414" rx="0.7"/>
<rect x="105.00" y="381.85" width="12.30" height="2.90" fill="#141414" rx="0.7"/>
<rect x="122.40" y="381.80" width="12.80" height="3.00" fill="#0f0f0f" rx="0.7"/>
<rect x="136.80" y="381.80" width="12.00" height="3.00" fill="#141414" rx="0.7"/>
<rect x="150.10" y="381.80" width="12.20" height="3.00" fill="#181818" rx="0.7"/>
<rect x="163.50" y="381.80" width="12.20" height="3.00" fill="#1f1f1f" rx="0.7"/>
<rect x="176.00" y="381.80" width="12.80" height="3.00" fill="#1f1f1f" rx="0.7"/>
<rect x="190.10" y="381.80" width="13.30" height="3.00" fill="#141414" rx="0.7"/>
<rect x="207.80" y="382.00" width="13.90" height="2.60" fill="#242424" rx="0.7"/>
<rect x="222.50" y="382.00" width="12.80" height="2.60" fill="#656565" rx="0.7"/>
<rect x="236.10" y="382.00" width="12.80" height="2.60" fill="#656565" rx="0.7"/>
<rect x="249.50" y="382.00" width="12.20" height="2.60" fill="#7c7c7c" rx="0.7"/>
<rect x="263.00" y="382.00" width="12.30" height="2.60" fill="#939393" rx="0.7"/>
<rect x="276.60" y="382.00" width="12.30" height="2.60" fill="#a3a3a3" rx="0.7"/>
<rect x="36.80" y="389.90" width="12.20" height="3.40" fill="#080808" rx="0.7"/>
<rect x="51.10" y="389.90" width="11.80" height="3.40" fill="#111111" rx="0.7"/>
<rect x="64.80" y="389.90" width="11.40" height="3.40" fill="#1b1b1b" rx="0.7"/>
<rect x="78.40" y="389.90" width="11.20" height="3.40" fill="#080808" rx="0.7"/>
<rect x="91.40" y="389.90" width="12.00" height="3.40" fill="#080808" rx="0.7"/>
<rect x="105.00" y="389.90" width="12.30" height="3.40" fill="#080808" rx="0.7"/>
<rect x="122.40" y="389.50" width="12.80" height="4.20" fill="#080808" rx="0.7"/>
<rect x="136.80" y="389.50" width="12.00" height="4.20" fill="#080808" rx="0.7"/>
<rect x="150.10" y="389.50" width="12.20" height="4.20" fill="#080808" rx="0.7"/>
<rect x="163.50" y="389.50" width="12.20" height="4.20" fill="#080808" rx="0.7"/>
<rect x="176.00" y="389.50" width="12.80" height="4.20" fill="#080808" rx="0.7"/>
<rect x="190.10" y="389.50" width="13.30" height="4.20" fill="#080808" rx="0.7"/>
<rect x="207.80" y="389.50" width="13.90" height="4.20" fill="#080808" rx="0.7"/>
<rect x="222.50" y="389.50" width="12.80" height="4.20" fill="#080808" rx="0.7"/>
<rect x="236.10" y="389.50" width="12.80" height="4.20" fill="#080808" rx="0.7"/>
<rect x="249.50" y="389.50" width="12.20" height="4.20" fill="#080808" rx="0.7"/>
<rect x="263.00" y="389.50" width="12.30" height="4.20" fill="#080808" rx="0.7"/>
<rect x="276.60" y="389.50" width="12.30" height="4.20" fill="#080808" rx="0.7"/>
<rect x="36.80" y="398.90" width="12.20" height="2.20" fill="#595959" rx="0.7"/>
<rect x="51.10" y="398.90" width="11.80" height="2.20" fill="#7c7c7c" rx="0.7"/>
<rect x="64.80" y="398.90" width="11.40" height="2.20" fill="#4e4e4e" rx="0.7"/>
<rect x="78.40" y="398.20" width="11.20" height="3.60" fill="#080808" rx="0.7"/>
<rect x="91.40" y="398.20" width="12.00" height="3.60" fill="#080808" rx="0.7"/>
<rect x="105.00" y="398.20" width="12.30" height="3.60" fill="#080808" rx="0.7"/>
<rect x="122.40" y="398.80" width="12.80" height="2.40" fill="#1f1f1f" rx="0.7"/>
<rect x="136.80" y="398.80" width="12.00" height="2.40" fill="#888888" rx="0.7"/>
<rect x="150.10" y="398.80" width="12.20" height="2.40" fill="#424242" rx="0.7"/>
<rect x="163.50" y="398.80" width="12.20" height="2.40" fill="#595959" rx="0.7"/>
<rect x="176.00" y="398.80" width="12.80" height="2.40" fill="#c6c6c6" rx="0.7"/>
<rect x="190.10" y="398.80" width="13.30" height="2.40" fill="#888888" rx="0.7"/>
<rect x="207.80" y="398.80" width="13.90" height="2.40" fill="#2b2b2b" rx="0.7"/>
<rect x="222.50" y="398.80" width="12.80" height="2.40" fill="#595959" rx="0.7"/>
<rect x="236.10" y="398.80" width="12.80" height="2.40" fill="#656565" rx="0.7"/>
<rect x="249.50" y="398.80" width="12.20" height="2.40" fill="#707070" rx="0.7"/>
<rect x="263.00" y="398.80" width="12.30" height="2.40" fill="#dddddd" rx="0.7"/>
<rect x="36.80" y="402.05" width="12.20" height="2.70" fill="#141414" rx="0.7"/>
<rect x="51.10" y="402.05" width="11.80" height="2.70" fill="#1f1f1f" rx="0.7"/>
<rect x="64.80" y="402.05" width="11.40" height="2.70" fill="#141414" rx="0.7"/>
<rect x="78.40" y="401.50" width="11.20" height="3.80" fill="#080808" rx="0.7"/>
<rect x="91.40" y="401.50" width="12.00" height="3.80" fill="#080808" rx="0.7"/>
<rect x="105.00" y="401.50" width="12.30" height="3.80" fill="#080808" rx="0.7"/>
<rect x="122.40" y="401.95" width="12.80" height="2.90" fill="#080808" rx="0.7"/>
<rect x="136.80" y="401.95" width="12.00" height="2.90" fill="#1f1f1f" rx="0.7"/>
<rect x="150.10" y="401.95" width="12.20" height="2.90" fill="#141414" rx="0.7"/>
<rect x="163.50" y="401.95" width="12.20" height="2.90" fill="#0f0f0f" rx="0.7"/>
<rect x="176.00" y="401.95" width="12.80" height="2.90" fill="#939393" rx="0.7"/>
<rect x="190.10" y="401.95" width="13.30" height="2.90" fill="#0f0f0f" rx="0.7"/>
<rect x="207.80" y="401.95" width="13.90" height="2.90" fill="#080808" rx="0.7"/>
<rect x="222.50" y="401.95" width="12.80" height="2.90" fill="#141414" rx="0.7"/>
<rect x="236.10" y="401.95" width="12.80" height="2.90" fill="#141414" rx="0.7"/>
<rect x="249.50" y="401.95" width="12.20" height="2.90" fill="#3b3b3b" rx="0.7"/>
<rect x="263.00" y="401.95" width="12.30" height="2.90" fill="#b6b6b6" rx="0.7"/>
<rect x="36.80" y="411.90" width="12.20" height="4.20" fill="#080808" rx="0.7"/>
<rect x="51.10" y="412.30" width="11.80" height="3.40" fill="#1f1f1f" rx="0.7"/>
<rect x="64.80" y="412.50" width="11.40" height="3.00" fill="#7c7c7c" rx="0.7"/>
<rect x="78.40" y="412.60" width="11.20" height="2.80" fill="#9f9f9f" rx="0.7"/>
<rect x="91.40" y="412.40" width="12.00" height="3.20" fill="#4e4e4e" rx="0.7"/>
<rect x="105.00" y="412.20" width="12.30" height="3.60" fill="#080808" rx="0.7"/>
<rect x="122.40" y="412.60" width="12.80" height="2.80" fill="#aaaaaa" rx="0.7"/>
<rect x="136.80" y="412.30" width="12.00" height="3.40" fill="#141414" rx="0.7"/>
<rect x="150.10" y="412.20" width="12.20" height="3.60" fill="#080808" rx="0.7"/>
<rect x="163.50" y="412.20" width="12.20" height="3.60" fill="#080808" rx="0.7"/>
<rect x="176.00" y="412.20" width="12.80" height="3.60" fill="#080808" rx="0.7"/>
<rect x="190.10" y="412.20" width="13.30" height="3.60" fill="#080808" rx="0.7"/>
<rect x="207.80" y="412.10" width="13.90" height="3.80" fill="#080808" rx="0.7"/>
<rect x="222.50" y="412.10" width="12.80" height="3.80" fill="#080808" rx="0.7"/>
<rect x="236.10" y="412.10" width="12.80" height="3.80" fill="#080808" rx="0.7"/>
<rect x="249.50" y="412.10" width="12.20" height="3.80" fill="#080808" rx="0.7"/>
<rect x="263.00" y="412.10" width="12.30" height="3.80" fill="#080808" rx="0.7"/>
<rect x="276.60" y="412.10" width="12.30" height="3.80" fill="#080808" rx="0.7"/>
<rect x="35.80" y="423.40" width="14.20" height="3.60" fill="#080808" rx="0.7"/>
<rect x="50.10" y="423.40" width="13.80" height="3.60" fill="#080808" rx="0.7"/>
<rect x="63.80" y="423.40" width="13.40" height="3.60" fill="#080808" rx="0.7"/>
<rect x="77.40" y="423.40" width="13.20" height="3.60" fill="#080808" rx="0.7"/>
<rect x="90.40" y="423.40" width="14.00" height="3.60" fill="#080808" rx="0.7"/>
<rect x="104.00" y="423.40" width="14.30" height="3.60" fill="#080808" rx="0.7"/>
<rect x="121.40" y="423.40" width="14.80" height="3.60" fill="#080808" rx="0.7"/>
<rect x="135.80" y="423.40" width="14.00" height="3.60" fill="#080808" rx="0.7"/>
<rect x="149.10" y="423.40" width="14.20" height="3.60" fill="#080808" rx="0.7"/>
<rect x="162.50" y="423.40" width="14.20" height="3.60" fill="#080808" rx="0.7"/>
<rect x="175.00" y="423.40" width="14.80" height="3.60" fill="#080808" rx="0.7"/>
<rect x="189.10" y="423.40" width="15.30" height="3.60" fill="#080808" rx="0.7"/>
<rect x="206.80" y="423.40" width="15.90" height="3.60" fill="#080808" rx="0.7"/>
<rect x="221.50" y="423.40" width="14.80" height="3.60" fill="#080808" rx="0.7"/>
<rect x="235.10" y="423.40" width="14.80" height="3.60" fill="#080808" rx="0.7"/>
<rect x="248.50" y="423.40" width="14.20" height="3.60" fill="#080808" rx="0.7"/>
<rect x="262.00" y="423.40" width="14.30" height="3.60" fill="#080808" rx="0.7"/>
<rect x="275.60" y="423.40" width="14.30" height="3.60" fill="#080808" rx="0.7"/>
</g>
<text x="9.25" y="376.90" font-size="8.21" textLength="23.20" lengthAdjust="spacingAndGlyphs">MCL-1</text>
<text x="13.80" y="385.70" font-size="8.21" textLength="19.00" lengthAdjust="spacingAndGlyphs">pERK</text>
<text x="18.80" y="394.50" font-size="8.21" textLength="14.00" lengthAdjust="spacingAndGlyphs">ERK</text>
<text x="8.40" y="406.00" font-size="8.21" textLength="24.40" lengthAdjust="spacingAndGlyphs">pGSK3</text>
<text x="13.40" y="416.30" font-size="8.21" textLength="19.40" lengthAdjust="spacingAndGlyphs">GSK3</text>
<text x="1.20" y="428.00" font-size="8.21" textLength="32.00" lengthAdjust="spacingAndGlyphs">B-ACTIN</text>
<text x="7.10" y="435.80" font-size="8.21" textLength="26.10" lengthAdjust="spacingAndGlyphs">Time [h]</text>
<text x="76.90" y="367.50" font-size="7.67" text-anchor="middle" textLength="45.20" lengthAdjust="spacingAndGlyphs">Bemcentinib</text>
<text x="162.65" y="367.50" font-size="7.67" text-anchor="middle" textLength="39.10" lengthAdjust="spacingAndGlyphs">Venetoclax</text>
<text x="248.10" y="358.50" font-size="7.67" text-anchor="middle" textLength="51.60" lengthAdjust="spacingAndGlyphs">Bemcentinib +</text>
<text x="248.45" y="367.00" font-size="7.67" text-anchor="middle" textLength="38.10" lengthAdjust="spacingAndGlyphs">venetoclax</text>
<text x="42.70" y="435.80" font-size="8.1" text-anchor="middle">0</text>
<text x="56.80" y="435.80" font-size="8.1" text-anchor="middle">0.5</text>
<text x="70.30" y="435.80" font-size="8.1" text-anchor="middle">1</text>
<text x="83.80" y="435.80" font-size="8.1" text-anchor="middle">4</text>
<text x="97.20" y="435.80" font-size="8.1" text-anchor="middle">12</text>
<text x="110.95" y="435.80" font-size="8.1" text-anchor="middle">24</text>
<text x="128.60" y="435.80" font-size="8.1" text-anchor="middle">0</text>
<text x="142.60" y="435.80" font-size="8.1" text-anchor="middle">0.5</text>
<text x="156.00" y="435.80" font-size="8.1" text-anchor="middle">1</text>
<text x="169.40" y="435.80" font-size="8.1" text-anchor="middle">4</text>
<text x="182.20" y="435.80" font-size="8.1" text-anchor="middle">12</text>
<text x="196.55" y="435.80" font-size="8.1" text-anchor="middle">24</text>
<text x="214.55" y="435.80" font-size="8.1" text-anchor="middle">0</text>
<text x="228.70" y="435.80" font-size="8.1" text-anchor="middle">0.5</text>
<text x="242.30" y="435.80" font-size="8.1" text-anchor="middle">1</text>
<text x="255.40" y="435.80" font-size="8.1" text-anchor="middle">4</text>
<text x="268.95" y="435.80" font-size="8.1" text-anchor="middle">12</text>
<text x="282.55" y="435.80" font-size="8.1" text-anchor="middle">24</text>
<line x1="44.50" y1="472.30" x2="44.50" y2="572.15" stroke="#231f20" stroke-width="1.05"/>
<line x1="44.05" y1="571.70" x2="271.60" y2="571.70" stroke="#231f20" stroke-width="1.05"/>
<line x1="41.40" y1="571.70" x2="44.50" y2="571.70" stroke="#231f20" stroke-width="0.8"/>
<text x="38.50" y="574.30" font-size="7.99" text-anchor="end" textLength="9.90" lengthAdjust="spacingAndGlyphs">0.0</text>
<line x1="41.40" y1="561.48" x2="44.50" y2="561.48" stroke="#231f20" stroke-width="0.8"/>
<text x="38.50" y="564.08" font-size="7.99" text-anchor="end" textLength="9.90" lengthAdjust="spacingAndGlyphs">0.2</text>
<line x1="41.40" y1="551.26" x2="44.50" y2="551.26" stroke="#231f20" stroke-width="0.8"/>
<text x="38.50" y="553.86" font-size="7.99" text-anchor="end" textLength="9.90" lengthAdjust="spacingAndGlyphs">0.4</text>
<line x1="41.40" y1="541.04" x2="44.50" y2="541.04" stroke="#231f20" stroke-width="0.8"/>
<text x="38.50" y="543.64" font-size="7.99" text-anchor="end" textLength="9.90" lengthAdjust="spacingAndGlyphs">0.6</text>
<line x1="41.40" y1="530.82" x2="44.50" y2="530.82" stroke="#231f20" stroke-width="0.8"/>
<text x="38.50" y="533.42" font-size="7.99" text-anchor="end" textLength="9.90" lengthAdjust="spacingAndGlyphs">0.8</text>
<line x1="41.40" y1="520.60" x2="44.50" y2="520.60" stroke="#231f20" stroke-width="0.8"/>
<text x="38.50" y="523.20" font-size="7.99" text-anchor="end" textLength="9.90" lengthAdjust="spacingAndGlyphs">1.0</text>
<line x1="41.40" y1="510.38" x2="44.50" y2="510.38" stroke="#231f20" stroke-width="0.8"/>
<text x="38.50" y="512.98" font-size="7.99" text-anchor="end" textLength="9.90" lengthAdjust="spacingAndGlyphs">1.2</text>
<line x1="41.40" y1="500.16" x2="44.50" y2="500.16" stroke="#231f20" stroke-width="0.8"/>
<text x="38.50" y="502.76" font-size="7.99" text-anchor="end" textLength="9.90" lengthAdjust="spacingAndGlyphs">1.4</text>
<line x1="41.40" y1="489.94" x2="44.50" y2="489.94" stroke="#231f20" stroke-width="0.8"/>
<text x="38.50" y="492.54" font-size="7.99" text-anchor="end" textLength="9.90" lengthAdjust="spacingAndGlyphs">1.6</text>
<line x1="41.40" y1="479.72" x2="44.50" y2="479.72" stroke="#231f20" stroke-width="0.8"/>
<text x="38.50" y="482.32" font-size="7.99" text-anchor="end" textLength="9.90" lengthAdjust="spacingAndGlyphs">1.8</text>
<rect x="47.05" y="520.60" width="6.40" height="51.10" fill="#cc1136"/>
<line x1="50.25" y1="571.70" x2="50.25" y2="574.30" stroke="#231f20" stroke-width="0.8"/>
<text x="50.25" y="583.60" font-size="7.78" text-anchor="middle">0</text>
<rect x="57.95" y="498.12" width="6.40" height="73.58" fill="#1a4e85"/>
<line x1="61.15" y1="571.70" x2="61.15" y2="574.30" stroke="#231f20" stroke-width="0.8"/>
<text x="61.15" y="583.60" font-size="7.78" text-anchor="middle">0.5</text>
<rect x="69.20" y="510.89" width="6.40" height="60.81" fill="#3cb544"/>
<line x1="72.40" y1="571.70" x2="72.40" y2="574.30" stroke="#231f20" stroke-width="0.8"/>
<text x="72.40" y="583.60" font-size="7.78" text-anchor="middle">1</text>
<rect x="80.05" y="511.91" width="6.40" height="59.79" fill="#5b2a80"/>
<line x1="83.25" y1="571.70" x2="83.25" y2="574.30" stroke="#231f20" stroke-width="0.8"/>
<text x="83.25" y="583.60" font-size="7.78" text-anchor="middle">4</text>
<rect x="91.70" y="524.69" width="6.40" height="47.01" fill="#fb9010"/>
<line x1="94.90" y1="571.70" x2="94.90" y2="574.30" stroke="#231f20" stroke-width="0.8"/>
<text x="94.90" y="583.60" font-size="7.78" text-anchor="middle">12</text>
<rect x="102.75" y="495.56" width="6.40" height="76.14" fill="#0d6d50"/>
<line x1="105.95" y1="571.70" x2="105.95" y2="574.30" stroke="#231f20" stroke-width="0.8"/>
<text x="105.95" y="583.60" font-size="7.78" text-anchor="middle">24</text>
<rect x="126.05" y="520.60" width="6.40" height="51.10" fill="#cc1136"/>
<line x1="129.25" y1="571.70" x2="129.25" y2="574.30" stroke="#231f20" stroke-width="0.8"/>
<text x="129.25" y="583.60" font-size="7.78" text-anchor="middle">0</text>
<rect x="137.15" y="473.59" width="6.40" height="98.11" fill="#1a4e85"/>
<line x1="140.35" y1="571.70" x2="140.35" y2="574.30" stroke="#231f20" stroke-width="0.8"/>
<text x="140.35" y="583.60" font-size="7.78" text-anchor="middle">0.5</text>
<rect x="148.85" y="480.74" width="6.40" height="90.96" fill="#3cb544"/>
<line x1="152.05" y1="571.70" x2="152.05" y2="574.30" stroke="#231f20" stroke-width="0.8"/>
<text x="152.05" y="583.60" font-size="7.78" text-anchor="middle">1</text>
<rect x="160.25" y="486.87" width="6.40" height="84.83" fill="#5b2a80"/>
<line x1="163.45" y1="571.70" x2="163.45" y2="574.30" stroke="#231f20" stroke-width="0.8"/>
<text x="163.45" y="583.60" font-size="7.78" text-anchor="middle">4</text>
<rect x="171.85" y="489.94" width="6.40" height="81.76" fill="#fb9010"/>
<line x1="175.05" y1="571.70" x2="175.05" y2="574.30" stroke="#231f20" stroke-width="0.8"/>
<text x="175.05" y="583.60" font-size="7.78" text-anchor="middle">12</text>
<rect x="183.50" y="489.43" width="6.40" height="82.27" fill="#0d6d50"/>
<line x1="186.70" y1="571.70" x2="186.70" y2="574.30" stroke="#231f20" stroke-width="0.8"/>
<text x="186.70" y="583.60" font-size="7.78" text-anchor="middle">24</text>
<rect x="204.50" y="520.60" width="6.40" height="51.10" fill="#cc1136"/>
<line x1="207.70" y1="571.70" x2="207.70" y2="574.30" stroke="#231f20" stroke-width="0.8"/>
<text x="207.70" y="583.60" font-size="7.78" text-anchor="middle">0</text>
<rect x="216.00" y="521.62" width="6.40" height="50.08" fill="#1a4e85"/>
<line x1="219.20" y1="571.70" x2="219.20" y2="574.30" stroke="#231f20" stroke-width="0.8"/>
<text x="219.20" y="583.60" font-size="7.78" text-anchor="middle">0.5</text>
<rect x="227.35" y="525.71" width="6.40" height="45.99" fill="#3cb544"/>
<line x1="230.55" y1="571.70" x2="230.55" y2="574.30" stroke="#231f20" stroke-width="0.8"/>
<text x="230.55" y="583.60" font-size="7.78" text-anchor="middle">1</text>
<rect x="238.75" y="528.27" width="6.40" height="43.43" fill="#5b2a80"/>
<line x1="241.95" y1="571.70" x2="241.95" y2="574.30" stroke="#231f20" stroke-width="0.8"/>
<text x="241.95" y="583.60" font-size="7.78" text-anchor="middle">4</text>
<rect x="250.15" y="545.64" width="6.40" height="26.06" fill="#fb9010"/>
<line x1="253.35" y1="571.70" x2="253.35" y2="574.30" stroke="#231f20" stroke-width="0.8"/>
<text x="253.35" y="583.60" font-size="7.78" text-anchor="middle">12</text>
<rect x="261.55" y="565.57" width="6.40" height="6.13" fill="#0d6d50"/>
<line x1="264.75" y1="571.70" x2="264.75" y2="574.30" stroke="#231f20" stroke-width="0.8"/>
<text x="264.75" y="583.60" font-size="7.78" text-anchor="middle">24</text>
<line x1="44.50" y1="520.80" x2="271.60" y2="520.80" stroke="#4a4a4a" stroke-width="1.3" stroke-dasharray="4.6,3.4" stroke-dashoffset="3.5"/>
<text x="39.20" y="583.50" font-size="8.53" text-anchor="end" textLength="26.00" lengthAdjust="spacingAndGlyphs">Time [h]</text>
<line x1="46.90" y1="468.40" x2="109.20" y2="468.40" stroke="#333" stroke-width="0.9"/>
<line x1="123.10" y1="468.40" x2="192.00" y2="468.40" stroke="#333" stroke-width="0.9"/>
<line x1="203.80" y1="468.50" x2="272.00" y2="468.50" stroke="#333" stroke-width="0.9"/>
<text x="78.10" y="465.20" font-size="9.07" text-anchor="middle" textLength="54.00" lengthAdjust="spacingAndGlyphs">Bemcentinib</text>
<text x="157.35" y="465.20" font-size="9.07" text-anchor="middle" textLength="47.10" lengthAdjust="spacingAndGlyphs">Venetoclax</text>
<text x="237.50" y="453.60" font-size="9.07" text-anchor="middle" textLength="62.80" lengthAdjust="spacingAndGlyphs">Bemcentinib +</text>
<text x="237.90" y="464.50" font-size="9.07" text-anchor="middle" textLength="46.00" lengthAdjust="spacingAndGlyphs">venetoclax</text>
<text x="10.00" y="522.00" font-size="7.56" text-anchor="middle" transform="translate(10.00 522.00) rotate(-90) scale(0.9670 1) translate(-10.00 -522.00)">MCL-1 level</text>
<text x="21.20" y="520.90" font-size="7.67" text-anchor="middle" transform="translate(21.20 520.90) rotate(-90) scale(1.0263 1) translate(-21.20 -520.90)">[normalized to B-ACTIN]</text>
<line x1="369.80" y1="467.80" x2="369.80" y2="542.65" stroke="#231f20" stroke-width="1.05"/>
<line x1="369.35" y1="542.20" x2="520.00" y2="542.20" stroke="#231f20" stroke-width="1.05"/>
<line x1="366.80" y1="472.10" x2="369.80" y2="472.10" stroke="#231f20" stroke-width="0.8"/>
<text x="364.40" y="474.70" font-size="7.99" text-anchor="end" textLength="2.30" lengthAdjust="spacingAndGlyphs">1</text>
<line x1="366.80" y1="489.63" x2="369.80" y2="489.63" stroke="#231f20" stroke-width="0.8"/>
<text x="364.40" y="492.23" font-size="7.99" text-anchor="end" textLength="16.00" lengthAdjust="spacingAndGlyphs">0.75</text>
<line x1="366.80" y1="507.15" x2="369.80" y2="507.15" stroke="#231f20" stroke-width="0.8"/>
<text x="364.40" y="509.75" font-size="7.99" text-anchor="end" textLength="11.30" lengthAdjust="spacingAndGlyphs">0.5</text>
<line x1="366.80" y1="524.68" x2="369.80" y2="524.68" stroke="#231f20" stroke-width="0.8"/>
<text x="364.40" y="527.28" font-size="7.99" text-anchor="end" textLength="16.00" lengthAdjust="spacingAndGlyphs">0.25</text>
<line x1="366.80" y1="542.20" x2="369.80" y2="542.20" stroke="#231f20" stroke-width="0.8"/>
<text x="364.40" y="544.80" font-size="7.99" text-anchor="end" textLength="4.40" lengthAdjust="spacingAndGlyphs">0</text>
<text x="342.80" y="505.60" font-size="8.86" text-anchor="middle" transform="translate(342.80 505.60) rotate(-90) scale(0.8561 1) translate(-342.80 -505.60)">Viability</text>
<text x="444.50" y="460.70" font-size="8.21" text-anchor="middle" textLength="51.00" lengthAdjust="spacingAndGlyphs">HL60 wildtype</text>
<rect x="376.90" y="472.10" width="6.20" height="70.10" fill="#cc1136"/>
<line x1="377.80" y1="470.70" x2="382.20" y2="470.70" stroke="#777" stroke-width="0.9"/>
<line x1="380.00" y1="470.70" x2="380.00" y2="472.10" stroke="#777" stroke-width="0.8"/>
<line x1="380.00" y1="542.20" x2="380.00" y2="545.20" stroke="#231f20" stroke-width="0.8"/>
<rect x="392.90" y="502.94" width="6.20" height="39.26" fill="#1a4e85"/>
<line x1="393.80" y1="502.24" x2="398.20" y2="502.24" stroke="#777" stroke-width="0.9"/>
<line x1="396.00" y1="502.24" x2="396.00" y2="502.94" stroke="#777" stroke-width="0.8"/>
<line x1="396.00" y1="542.20" x2="396.00" y2="545.20" stroke="#231f20" stroke-width="0.8"/>
<rect x="409.00" y="523.55" width="6.20" height="18.65" fill="#3cb544"/>
<line x1="409.90" y1="522.85" x2="414.30" y2="522.85" stroke="#777" stroke-width="0.9"/>
<line x1="412.10" y1="522.85" x2="412.10" y2="523.55" stroke="#777" stroke-width="0.8"/>
<line x1="412.10" y1="542.20" x2="412.10" y2="545.20" stroke="#231f20" stroke-width="0.8"/>
<rect x="425.00" y="537.08" width="6.20" height="5.12" fill="#4a2570"/>
<line x1="425.90" y1="536.38" x2="430.30" y2="536.38" stroke="#777" stroke-width="0.9"/>
<line x1="428.10" y1="536.38" x2="428.10" y2="537.08" stroke="#777" stroke-width="0.8"/>
<line x1="428.10" y1="542.20" x2="428.10" y2="545.20" stroke="#231f20" stroke-width="0.8"/>
<rect x="441.20" y="515.14" width="6.20" height="27.06" fill="#fb9010"/>
<line x1="442.10" y1="514.30" x2="446.50" y2="514.30" stroke="#777" stroke-width="0.9"/>
<line x1="444.30" y1="514.30" x2="444.30" y2="515.14" stroke="#777" stroke-width="0.8"/>
<line x1="444.30" y1="542.20" x2="444.30" y2="545.20" stroke="#231f20" stroke-width="0.8"/>
<rect x="457.00" y="533.72" width="6.20" height="8.48" fill="#147154"/>
<line x1="457.90" y1="533.02" x2="462.30" y2="533.02" stroke="#777" stroke-width="0.9"/>
<line x1="460.10" y1="533.02" x2="460.10" y2="533.72" stroke="#777" stroke-width="0.8"/>
<line x1="460.10" y1="542.20" x2="460.10" y2="545.20" stroke="#231f20" stroke-width="0.8"/>
<rect x="473.20" y="497.97" width="6.20" height="44.23" fill="#8a84c4"/>
<line x1="474.10" y1="497.13" x2="478.50" y2="497.13" stroke="#777" stroke-width="0.9"/>
<line x1="476.30" y1="497.13" x2="476.30" y2="497.97" stroke="#777" stroke-width="0.8"/>
<line x1="476.30" y1="542.20" x2="476.30" y2="545.20" stroke="#231f20" stroke-width="0.8"/>
<rect x="489.30" y="524.46" width="6.20" height="17.74" fill="#4b5262"/>
<line x1="490.20" y1="523.62" x2="494.60" y2="523.62" stroke="#777" stroke-width="0.9"/>
<line x1="492.40" y1="523.62" x2="492.40" y2="524.46" stroke="#777" stroke-width="0.8"/>
<line x1="492.40" y1="542.20" x2="492.40" y2="545.20" stroke="#231f20" stroke-width="0.8"/>
<rect x="507.40" y="539.40" width="6.20" height="2.80" fill="#38aab8"/>
<line x1="508.30" y1="538.70" x2="512.70" y2="538.70" stroke="#777" stroke-width="0.9"/>
<line x1="510.50" y1="538.70" x2="510.50" y2="539.40" stroke="#777" stroke-width="0.8"/>
<line x1="510.50" y1="542.20" x2="510.50" y2="545.20" stroke="#231f20" stroke-width="0.8"/>
<text x="366.30" y="554.90" font-size="8.1" text-anchor="end" textLength="57.70" lengthAdjust="spacingAndGlyphs">Venetoclax [nM]</text>
<text x="380.00" y="554.90" font-size="7.99" text-anchor="middle" textLength="3.80" lengthAdjust="spacingAndGlyphs">0</text>
<text x="396.00" y="554.90" font-size="7.99" text-anchor="middle" textLength="7.90" lengthAdjust="spacingAndGlyphs">20</text>
<text x="412.10" y="554.90" font-size="7.99" text-anchor="middle" textLength="3.80" lengthAdjust="spacingAndGlyphs">0</text>
<text x="428.10" y="554.90" font-size="7.99" text-anchor="middle" textLength="7.90" lengthAdjust="spacingAndGlyphs">20</text>
<text x="444.30" y="554.90" font-size="7.99" text-anchor="middle" textLength="3.80" lengthAdjust="spacingAndGlyphs">0</text>
<text x="460.10" y="554.90" font-size="7.99" text-anchor="middle" textLength="7.90" lengthAdjust="spacingAndGlyphs">20</text>
<text x="476.30" y="554.90" font-size="7.99" text-anchor="middle" textLength="3.80" lengthAdjust="spacingAndGlyphs">0</text>
<text x="492.40" y="554.90" font-size="7.99" text-anchor="middle" textLength="7.90" lengthAdjust="spacingAndGlyphs">20</text>
<text x="510.50" y="554.90" font-size="7.99" text-anchor="middle" textLength="7.90" lengthAdjust="spacingAndGlyphs">20</text>
<text x="366.30" y="565.40" font-size="8.1" text-anchor="end" textLength="55.90" lengthAdjust="spacingAndGlyphs">Gilteritinib [µM]</text>
<text x="380.00" y="565.40" font-size="7.99" text-anchor="middle" textLength="3.80" lengthAdjust="spacingAndGlyphs">0</text>
<text x="396.00" y="565.40" font-size="7.99" text-anchor="middle" textLength="3.80" lengthAdjust="spacingAndGlyphs">0</text>
<text x="412.10" y="565.40" font-size="7.99" text-anchor="middle" textLength="3.80" lengthAdjust="spacingAndGlyphs">1</text>
<text x="428.10" y="565.40" font-size="7.99" text-anchor="middle" textLength="3.80" lengthAdjust="spacingAndGlyphs">1</text>
<text x="444.30" y="565.40" font-size="7.99" text-anchor="middle" textLength="3.80" lengthAdjust="spacingAndGlyphs">0</text>
<text x="460.10" y="565.40" font-size="7.99" text-anchor="middle" textLength="3.80" lengthAdjust="spacingAndGlyphs">0</text>
<text x="476.30" y="565.40" font-size="7.99" text-anchor="middle" textLength="3.80" lengthAdjust="spacingAndGlyphs">0</text>
<text x="492.40" y="565.40" font-size="7.99" text-anchor="middle" textLength="3.80" lengthAdjust="spacingAndGlyphs">0</text>
<text x="510.50" y="565.40" font-size="7.99" text-anchor="middle" textLength="3.80" lengthAdjust="spacingAndGlyphs">0</text>
<text x="366.30" y="576.00" font-size="8.1" text-anchor="end" textLength="62.20" lengthAdjust="spacingAndGlyphs">Bemcentinib [µM]</text>
<text x="380.00" y="576.00" font-size="7.99" text-anchor="middle" textLength="3.80" lengthAdjust="spacingAndGlyphs">0</text>
<text x="396.00" y="576.00" font-size="7.99" text-anchor="middle" textLength="3.80" lengthAdjust="spacingAndGlyphs">0</text>
<text x="412.10" y="576.00" font-size="7.99" text-anchor="middle" textLength="3.80" lengthAdjust="spacingAndGlyphs">0</text>
<text x="428.10" y="576.00" font-size="7.99" text-anchor="middle" textLength="3.80" lengthAdjust="spacingAndGlyphs">0</text>
<text x="444.30" y="576.00" font-size="7.99" text-anchor="middle" textLength="3.80" lengthAdjust="spacingAndGlyphs">1</text>
<text x="460.10" y="576.00" font-size="7.99" text-anchor="middle" textLength="3.80" lengthAdjust="spacingAndGlyphs">1</text>
<text x="476.30" y="576.00" font-size="7.99" text-anchor="middle" textLength="3.80" lengthAdjust="spacingAndGlyphs">0</text>
<text x="492.40" y="576.00" font-size="7.99" text-anchor="middle" textLength="3.80" lengthAdjust="spacingAndGlyphs">0</text>
<text x="510.50" y="576.00" font-size="7.99" text-anchor="middle" textLength="3.80" lengthAdjust="spacingAndGlyphs">1</text>
<text x="366.30" y="586.50" font-size="8.1" text-anchor="end" textLength="57.30" lengthAdjust="spacingAndGlyphs">Quizartinib [µM]</text>
<text x="380.00" y="586.50" font-size="7.99" text-anchor="middle" textLength="3.80" lengthAdjust="spacingAndGlyphs">0</text>
<text x="396.00" y="586.50" font-size="7.99" text-anchor="middle" textLength="3.80" lengthAdjust="spacingAndGlyphs">0</text>
<text x="412.10" y="586.50" font-size="7.99" text-anchor="middle" textLength="3.80" lengthAdjust="spacingAndGlyphs">0</text>
<text x="428.10" y="586.50" font-size="7.99" text-anchor="middle" textLength="3.80" lengthAdjust="spacingAndGlyphs">0</text>
<text x="444.30" y="586.50" font-size="7.99" text-anchor="middle" textLength="3.80" lengthAdjust="spacingAndGlyphs">0</text>
<text x="460.10" y="586.50" font-size="7.99" text-anchor="middle" textLength="3.80" lengthAdjust="spacingAndGlyphs">0</text>
<text x="476.30" y="586.50" font-size="7.99" text-anchor="middle" textLength="3.80" lengthAdjust="spacingAndGlyphs">1</text>
<text x="492.40" y="586.50" font-size="7.99" text-anchor="middle" textLength="3.80" lengthAdjust="spacingAndGlyphs">1</text>
<text x="510.50" y="586.50" font-size="7.99" text-anchor="middle" textLength="3.80" lengthAdjust="spacingAndGlyphs">1</text>
</svg></body></html>
